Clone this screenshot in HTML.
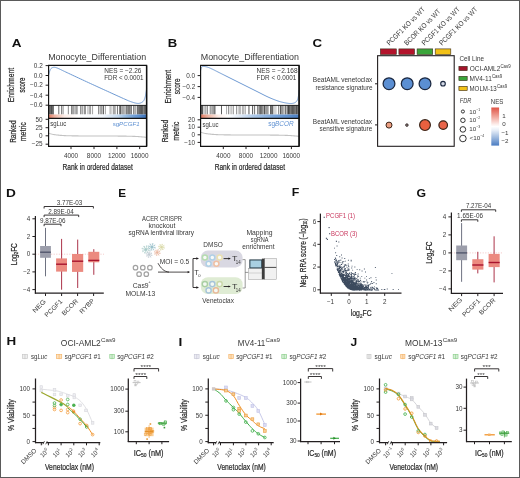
<!DOCTYPE html>
<html><head><meta charset="utf-8"><style>
html,body{margin:0;padding:0;background:#fff;width:520px;height:478px;overflow:hidden}
.hv{stroke:#2a2a2a;stroke-width:0.22px;fill:#2a2a2a}
svg{display:block;font-family:"Liberation Sans",sans-serif;filter:blur(0.3px)}
</style></head><body>
<svg width="520" height="478" viewBox="0 0 520 478" font-family="Liberation Sans, sans-serif" fill="#383838">
<defs>
<linearGradient id="grA" x1="0" x2="1" y1="0" y2="0">
<stop offset="0" stop-color="#e07a62"/><stop offset="0.06" stop-color="#eeb3a1"/><stop offset="0.16" stop-color="#fbece6"/><stop offset="0.3" stop-color="#ffffff"/>
<stop offset="0.55" stop-color="#f2f6fb"/><stop offset="0.7" stop-color="#c6daef"/><stop offset="0.8" stop-color="#8fb6e0"/><stop offset="0.92" stop-color="#5c8fcf"/><stop offset="1" stop-color="#3a6fb5"/></linearGradient>
<linearGradient id="grB" x1="0" x2="1" y1="0" y2="0">
<stop offset="0" stop-color="#e07a62"/><stop offset="0.08" stop-color="#efb8a6"/><stop offset="0.18" stop-color="#fbece6"/><stop offset="0.28" stop-color="#ffffff"/>
<stop offset="0.4" stop-color="#dfe9f6"/><stop offset="0.55" stop-color="#a9c6e8"/><stop offset="0.75" stop-color="#77a3da"/><stop offset="1" stop-color="#4a7fc4"/></linearGradient>
<linearGradient id="nes" x1="0" x2="0" y1="0" y2="1">
<stop offset="0" stop-color="#df5446"/><stop offset="0.25" stop-color="#f1a99e"/><stop offset="0.45" stop-color="#fdf0ee"/><stop offset="0.5" stop-color="#ffffff"/>
<stop offset="0.6" stop-color="#e6edf7"/><stop offset="0.8" stop-color="#99b6dd"/><stop offset="1" stop-color="#4a7cc2"/></linearGradient>
</defs>
<rect x="0" y="0" width="520" height="478" fill="#fff"/>
<text x="11.68" y="47.1" font-size="11.34" textLength="9.78" lengthAdjust="spacingAndGlyphs" fill="#111" font-weight="bold">A</text>
<line x1="45.6" y1="65.6" x2="48.6" y2="65.6" stroke="#231f20" stroke-width="1"/>
<line x1="45.6" y1="75.5" x2="48.6" y2="75.5" stroke="#231f20" stroke-width="1"/>
<line x1="45.6" y1="85.2" x2="48.6" y2="85.2" stroke="#231f20" stroke-width="1"/>
<line x1="45.6" y1="95.2" x2="48.6" y2="95.2" stroke="#231f20" stroke-width="1"/>
<line x1="45.6" y1="105.2" x2="48.6" y2="105.2" stroke="#231f20" stroke-width="1"/>
<line x1="45.6" y1="119.3" x2="48.6" y2="119.3" stroke="#231f20" stroke-width="1"/>
<line x1="45.6" y1="127.7" x2="48.6" y2="127.7" stroke="#231f20" stroke-width="1"/>
<line x1="45.6" y1="135.8" x2="48.6" y2="135.8" stroke="#231f20" stroke-width="1"/>
<line x1="45.6" y1="144.2" x2="48.6" y2="144.2" stroke="#231f20" stroke-width="1"/>
<rect x="48.6" y="105.4" width="0.54" height="9.1" fill="#1e1e1e"/>
<rect x="49.16" y="105.4" width="0.65" height="9.1" fill="#3c3c3c"/>
<rect x="49.84" y="105.4" width="0.61" height="9.1" fill="#2a2a2a"/>
<rect x="50.45" y="105.4" width="0.51" height="9.1" fill="#3c3c3c"/>
<rect x="50.99" y="105.4" width="0.73" height="9.1" fill="#1e1e1e"/>
<rect x="51.78" y="105.4" width="0.58" height="9.1" fill="#2a2a2a"/>
<rect x="52.4" y="105.4" width="0.53" height="9.1" fill="#333"/>
<rect x="52.94" y="105.4" width="0.51" height="9.1" fill="#1e1e1e"/>
<rect x="53.01" y="105.4" width="0.77" height="9.1" fill="#6a6a6a"/>
<rect x="58.29" y="105.4" width="1.01" height="9.1" fill="#6a6a6a"/>
<rect x="61.18" y="105.4" width="1.16" height="9.1" fill="#6a6a6a"/>
<rect x="62.89" y="105.4" width="0.97" height="9.1" fill="#b0b0b0"/>
<rect x="67.81" y="105.4" width="1.15" height="9.1" fill="#9a9a9a"/>
<rect x="71.33" y="105.4" width="0.89" height="9.1" fill="#4a4a4a"/>
<rect x="72.48" y="105.4" width="1.19" height="9.1" fill="#7a7a7a"/>
<rect x="73.85" y="105.4" width="0.73" height="9.1" fill="#9a9a9a"/>
<rect x="75.5" y="105.4" width="1.14" height="9.1" fill="#6a6a6a"/>
<rect x="77.11" y="105.4" width="0.91" height="9.1" fill="#b0b0b0"/>
<rect x="80.45" y="105.4" width="0.85" height="9.1" fill="#3a3a3a"/>
<rect x="82.16" y="105.4" width="1.02" height="9.1" fill="#9a9a9a"/>
<rect x="83.87" y="105.4" width="0.62" height="9.1" fill="#8a8a8a"/>
<rect x="84.61" y="105.4" width="0.96" height="9.1" fill="#4a4a4a"/>
<rect x="87.53" y="105.4" width="0.86" height="9.1" fill="#9a9a9a"/>
<rect x="89" y="105.4" width="1.01" height="9.1" fill="#b0b0b0"/>
<rect x="90.07" y="105.4" width="0.99" height="9.1" fill="#9a9a9a"/>
<rect x="92.42" y="105.4" width="0.62" height="9.1" fill="#6a6a6a"/>
<rect x="98.26" y="105.4" width="1.04" height="9.1" fill="#6a6a6a"/>
<rect x="99.98" y="105.4" width="0.74" height="9.1" fill="#8a8a8a"/>
<rect x="101.52" y="105.4" width="0.69" height="9.1" fill="#3a3a3a"/>
<rect x="102.83" y="105.4" width="1.1" height="9.1" fill="#5a5a5a"/>
<rect x="104.89" y="105.4" width="0.89" height="9.1" fill="#9a9a9a"/>
<rect x="109.67" y="105.4" width="0.84" height="9.1" fill="#8a8a8a"/>
<rect x="111.6" y="105.4" width="0.64" height="9.1" fill="#9a9a9a"/>
<rect x="113.1" y="105.4" width="0.75" height="9.1" fill="#8a8a8a"/>
<rect x="113.85" y="105.4" width="0.88" height="9.1" fill="#8a8a8a"/>
<rect x="115.53" y="105.4" width="0.52" height="9.1" fill="#6a6a6a"/>
<rect x="117.2" y="105.4" width="0.78" height="9.1" fill="#5a5a5a"/>
<rect x="118.96" y="105.4" width="0.9" height="9.1" fill="#7a7a7a"/>
<rect x="119.88" y="105.4" width="0.97" height="9.1" fill="#4a4a4a"/>
<rect x="120.89" y="105.4" width="0.51" height="9.1" fill="#3a3a3a"/>
<rect x="122.1" y="105.4" width="0.64" height="9.1" fill="#7a7a7a"/>
<rect x="122.8" y="105.4" width="0.81" height="9.1" fill="#8a8a8a"/>
<rect x="123.79" y="105.4" width="0.58" height="9.1" fill="#7a7a7a"/>
<rect x="124.74" y="105.4" width="0.58" height="9.1" fill="#7a7a7a"/>
<rect x="125.85" y="105.4" width="0.65" height="9.1" fill="#3c3c3c"/>
<rect x="126.69" y="105.4" width="0.74" height="9.1" fill="#3a3a3a"/>
<rect x="127.62" y="105.4" width="0.67" height="9.1" fill="#6a6a6a"/>
<rect x="128.44" y="105.4" width="0.63" height="9.1" fill="#3c3c3c"/>
<rect x="129.42" y="105.4" width="0.6" height="9.1" fill="#2a2a2a"/>
<rect x="130.31" y="105.4" width="0.99" height="9.1" fill="#6a6a6a"/>
<rect x="131.3" y="105.4" width="0.57" height="9.1" fill="#3c3c3c"/>
<rect x="133.49" y="105.4" width="0.72" height="9.1" fill="#1e1e1e"/>
<rect x="134.78" y="105.4" width="0.77" height="9.1" fill="#6a6a6a"/>
<rect x="136.8" y="105.4" width="0.75" height="9.1" fill="#3c3c3c"/>
<rect x="137.58" y="105.4" width="0.76" height="9.1" fill="#3c3c3c"/>
<rect x="138.45" y="105.4" width="0.82" height="9.1" fill="#3c3c3c"/>
<rect x="139.28" y="105.4" width="0.62" height="9.1" fill="#2a2a2a"/>
<rect x="140.1" y="105.4" width="0.62" height="9.1" fill="#1e1e1e"/>
<rect x="140.76" y="105.4" width="0.88" height="9.1" fill="#2a2a2a"/>
<rect x="141.69" y="105.4" width="0.6" height="9.1" fill="#1e1e1e"/>
<rect x="142.38" y="105.4" width="0.84" height="9.1" fill="#2a2a2a"/>
<rect x="143.54" y="105.4" width="0.73" height="9.1" fill="#2a2a2a"/>
<rect x="144.45" y="105.4" width="0.85" height="9.1" fill="#1e1e1e"/>
<rect x="145.34" y="105.4" width="0.64" height="9.1" fill="#2a2a2a"/>
<rect x="146.07" y="105.4" width="0.86" height="9.1" fill="#2a2a2a"/>
<rect x="48.6" y="114.5" width="98" height="3.9" fill="url(#grA)"/>
<path d="M48.6 133.2 L49.58 133.52 L50.56 133.8 L51.54 134.05 L52.52 134.27 L53.5 134.46 L54.48 134.64 L55.46 134.79 L56.44 134.93 L57.42 135.05 L58.4 135.16 L59.38 135.25 L60.36 135.34 L61.34 135.41 L62.32 135.48 L63.3 135.54 L64.28 135.59 L65.26 135.64 L66.24 135.68 L67.22 135.71 L68.2 135.75 L69.18 135.78 L70.16 135.8 L71.14 135.82 L72.12 135.84 L73.1 135.86 L74.08 135.88 L75.06 135.89 L76.04 135.9 L77.02 135.91 L78 135.92 L78.98 135.93 L79.96 135.94 L80.94 135.95 L81.92 135.95 L82.9 135.96 L83.88 135.97 L84.86 135.97 L85.84 135.97 L86.82 135.98 L87.8 135.98 L88.78 135.98 L89.76 135.99 L90.74 135.99 L91.72 135.99 L92.7 135.99 L93.68 136 L94.66 136 L95.64 136 L96.62 136 L97.6 136 L98.58 136 L99.56 136.01 L100.54 136.01 L101.52 136.01 L102.5 136.01 L103.48 136.01 L104.46 136.02 L105.44 136.02 L106.42 136.02 L107.4 136.02 L108.38 136.03 L109.36 136.03 L110.34 136.03 L111.32 136.04 L112.3 136.04 L113.28 136.05 L114.26 136.05 L115.24 136.06 L116.22 136.06 L117.2 136.07 L118.18 136.08 L119.16 136.08 L120.14 136.09 L121.12 136.1 L122.1 136.11 L123.08 136.13 L124.06 136.14 L125.04 136.15 L126.02 136.17 L127 136.19 L127.98 136.21 L128.96 136.23 L129.94 136.26 L130.92 136.28 L131.9 136.31 L132.88 136.35 L133.86 136.38 L134.84 136.42 L135.82 136.47 L136.8 136.51 L137.78 136.57 L138.76 136.63 L139.74 136.7 L140.72 136.77 L141.7 136.85 L142.68 136.94 L143.66 137.04 L144.64 137.15 L145.62 137.27 L146.6 137.4" fill="none" stroke="#c2c2c2" stroke-width="1.1"/>
<path d="M48.6 75 L48.66 74.79 L48.73 74.51 L48.81 74.19 L48.91 73.82 L49.01 73.43 L49.12 73.02 L49.24 72.62 L49.36 72.22 L49.48 71.84 L49.6 71.5 L49.72 71.18 L49.83 70.86 L49.95 70.54 L50.06 70.22 L50.19 69.91 L50.32 69.62 L50.46 69.33 L50.62 69.07 L50.8 68.82 L51 68.6 L51.22 68.4 L51.45 68.2 L51.71 68.02 L51.97 67.86 L52.25 67.71 L52.54 67.58 L52.84 67.48 L53.15 67.39 L53.47 67.33 L53.8 67.3 L54.11 67.28 L54.4 67.28 L54.68 67.29 L54.97 67.33 L55.27 67.39 L55.61 67.48 L56 67.6 L56.45 67.75 L56.98 67.95 L57.6 68.2 L58.28 68.48 L58.99 68.8 L59.75 69.14 L60.56 69.52 L61.43 69.94 L62.38 70.4 L63.42 70.91 L64.57 71.45 L65.82 72.05 L67.2 72.7 L68.74 73.42 L70.44 74.22 L72.28 75.08 L74.23 75.99 L76.25 76.93 L78.32 77.9 L80.41 78.87 L82.49 79.84 L84.53 80.79 L86.5 81.7 L88.42 82.59 L90.35 83.47 L92.27 84.36 L94.19 85.24 L96.11 86.12 L98.02 87 L99.94 87.87 L101.86 88.75 L103.78 89.62 L105.7 90.5 L107.68 91.4 L109.74 92.34 L111.86 93.31 L113.98 94.28 L116.09 95.23 L118.13 96.16 L120.07 97.03 L121.87 97.85 L123.49 98.57 L124.9 99.2 L126.07 99.72 L127.04 100.14 L127.83 100.49 L128.48 100.77 L129.03 101 L129.52 101.19 L129.97 101.37 L130.43 101.53 L130.93 101.71 L131.5 101.9 L132.13 102.11 L132.76 102.31 L133.39 102.5 L134.02 102.69 L134.64 102.86 L135.24 103.01 L135.82 103.14 L136.38 103.25 L136.91 103.34 L137.4 103.4 L137.86 103.43 L138.28 103.44 L138.68 103.42 L139.05 103.38 L139.41 103.32 L139.74 103.24 L140.07 103.15 L140.38 103.04 L140.69 102.93 L141 102.8 L141.31 102.66 L141.6 102.52 L141.89 102.36 L142.16 102.19 L142.43 102 L142.68 101.8 L142.92 101.58 L143.16 101.34 L143.39 101.08 L143.6 100.8 L143.8 100.5 L143.99 100.19 L144.17 99.86 L144.34 99.52 L144.49 99.15 L144.64 98.76 L144.79 98.36 L144.93 97.93 L145.06 97.48 L145.2 97 L145.33 96.48 L145.46 95.89 L145.59 95.27 L145.71 94.61 L145.83 93.95 L145.94 93.29 L146.04 92.65 L146.14 92.04 L146.22 91.49 L146.3 91 L146.36 90.56 L146.42 90.16 L146.46 89.79 L146.49 89.44 L146.52 89.12 L146.54 88.84 L146.56 88.58 L146.57 88.36 L146.59 88.17 L146.6 88" fill="none" stroke="#6e9ad3" stroke-width="1"/>
<line x1="48.6" y1="105.4" x2="146.6" y2="105.4" stroke="#111" stroke-width="0.9"/>
<line x1="48.4" y1="118.4" x2="146.8" y2="118.4" stroke="#111" stroke-width="1.2"/>
<path d="M48.60 146.30V65.40H146.60V146.30Z" fill="none" stroke="#111" stroke-width="1.15"/>
<line x1="146.6" y1="65.4" x2="146.6" y2="146.3" stroke="#111" stroke-width="1.45"/>
<line x1="71" y1="146.3" x2="71" y2="149.1" stroke="#231f20" stroke-width="1"/>
<line x1="94" y1="146.3" x2="94" y2="149.1" stroke="#231f20" stroke-width="1"/>
<line x1="116.9" y1="146.3" x2="116.9" y2="149.1" stroke="#231f20" stroke-width="1"/>
<line x1="139.7" y1="146.3" x2="139.7" y2="149.1" stroke="#231f20" stroke-width="1"/>
<text x="167.84" y="47.1" font-size="11.34" textLength="9.46" lengthAdjust="spacingAndGlyphs" fill="#111" font-weight="bold">B</text>
<line x1="197.6" y1="75.6" x2="200.6" y2="75.6" stroke="#231f20" stroke-width="1"/>
<line x1="197.6" y1="86.6" x2="200.6" y2="86.6" stroke="#231f20" stroke-width="1"/>
<line x1="197.6" y1="97.4" x2="200.6" y2="97.4" stroke="#231f20" stroke-width="1"/>
<line x1="197.6" y1="119.8" x2="200.6" y2="119.8" stroke="#231f20" stroke-width="1"/>
<line x1="197.6" y1="127.2" x2="200.6" y2="127.2" stroke="#231f20" stroke-width="1"/>
<line x1="197.6" y1="134.8" x2="200.6" y2="134.8" stroke="#231f20" stroke-width="1"/>
<line x1="197.6" y1="142.4" x2="200.6" y2="142.4" stroke="#231f20" stroke-width="1"/>
<rect x="200.6" y="105.4" width="0.79" height="9.1" fill="#1e1e1e"/>
<rect x="201.39" y="105.4" width="0.61" height="9.1" fill="#2a2a2a"/>
<rect x="202.07" y="105.4" width="0.7" height="9.1" fill="#333"/>
<rect x="202.57" y="105.4" width="0.65" height="9.1" fill="#3a3a3a"/>
<rect x="203.91" y="105.4" width="0.61" height="9.1" fill="#9a9a9a"/>
<rect x="205.34" y="105.4" width="1.06" height="9.1" fill="#8a8a8a"/>
<rect x="207.03" y="105.4" width="0.81" height="9.1" fill="#7a7a7a"/>
<rect x="209.69" y="105.4" width="1.11" height="9.1" fill="#8a8a8a"/>
<rect x="211.3" y="105.4" width="0.72" height="9.1" fill="#9a9a9a"/>
<rect x="212.47" y="105.4" width="1.12" height="9.1" fill="#5a5a5a"/>
<rect x="214.24" y="105.4" width="0.67" height="9.1" fill="#3a3a3a"/>
<rect x="215.06" y="105.4" width="0.62" height="9.1" fill="#8a8a8a"/>
<rect x="220.99" y="105.4" width="0.97" height="9.1" fill="#5a5a5a"/>
<rect x="226.23" y="105.4" width="0.81" height="9.1" fill="#9a9a9a"/>
<rect x="228.11" y="105.4" width="1.13" height="9.1" fill="#8a8a8a"/>
<rect x="230.49" y="105.4" width="0.75" height="9.1" fill="#b0b0b0"/>
<rect x="231.38" y="105.4" width="1.03" height="9.1" fill="#b0b0b0"/>
<rect x="233.25" y="105.4" width="0.67" height="9.1" fill="#7a7a7a"/>
<rect x="236" y="105.4" width="0.85" height="9.1" fill="#8a8a8a"/>
<rect x="237.72" y="105.4" width="0.82" height="9.1" fill="#b0b0b0"/>
<rect x="238.88" y="105.4" width="1.01" height="9.1" fill="#b0b0b0"/>
<rect x="240.42" y="105.4" width="0.66" height="9.1" fill="#8a8a8a"/>
<rect x="242.43" y="105.4" width="1.08" height="9.1" fill="#7a7a7a"/>
<rect x="244.7" y="105.4" width="0.84" height="9.1" fill="#7a7a7a"/>
<rect x="248.06" y="105.4" width="0.99" height="9.1" fill="#9a9a9a"/>
<rect x="249.35" y="105.4" width="0.65" height="9.1" fill="#8a8a8a"/>
<rect x="252.17" y="105.4" width="0.94" height="9.1" fill="#4a4a4a"/>
<rect x="254.34" y="105.4" width="0.74" height="9.1" fill="#3a3a3a"/>
<rect x="256.98" y="105.4" width="0.63" height="9.1" fill="#4a4a4a"/>
<rect x="257.66" y="105.4" width="0.96" height="9.1" fill="#7a7a7a"/>
<rect x="259.34" y="105.4" width="0.98" height="9.1" fill="#4a4a4a"/>
<rect x="259.7" y="105.4" width="0.57" height="9.1" fill="#7a7a7a"/>
<rect x="260.42" y="105.4" width="0.61" height="9.1" fill="#3a3a3a"/>
<rect x="261.33" y="105.4" width="0.86" height="9.1" fill="#3a3a3a"/>
<rect x="262.22" y="105.4" width="0.68" height="9.1" fill="#6a6a6a"/>
<rect x="263.52" y="105.4" width="0.54" height="9.1" fill="#4a4a4a"/>
<rect x="264.07" y="105.4" width="0.86" height="9.1" fill="#3a3a3a"/>
<rect x="265.19" y="105.4" width="0.56" height="9.1" fill="#5a5a5a"/>
<rect x="266.49" y="105.4" width="0.76" height="9.1" fill="#3a3a3a"/>
<rect x="267.52" y="105.4" width="0.52" height="9.1" fill="#6a6a6a"/>
<rect x="268.13" y="105.4" width="0.52" height="9.1" fill="#8a8a8a"/>
<rect x="270.18" y="105.4" width="0.81" height="9.1" fill="#3c3c3c"/>
<rect x="271.06" y="105.4" width="0.67" height="9.1" fill="#3a3a3a"/>
<rect x="271.93" y="105.4" width="0.78" height="9.1" fill="#2a2a2a"/>
<rect x="273.45" y="105.4" width="0.95" height="9.1" fill="#9a9a9a"/>
<rect x="275.49" y="105.4" width="0.85" height="9.1" fill="#b0b0b0"/>
<rect x="278.1" y="105.4" width="0.55" height="9.1" fill="#333"/>
<rect x="278.85" y="105.4" width="0.55" height="9.1" fill="#b0b0b0"/>
<rect x="280.26" y="105.4" width="0.97" height="9.1" fill="#1e1e1e"/>
<rect x="281.71" y="105.4" width="0.7" height="9.1" fill="#1e1e1e"/>
<rect x="282.63" y="105.4" width="0.94" height="9.1" fill="#8a8a8a"/>
<rect x="283.73" y="105.4" width="0.8" height="9.1" fill="#9a9a9a"/>
<rect x="285.12" y="105.4" width="0.85" height="9.1" fill="#5a5a5a"/>
<rect x="286.58" y="105.4" width="0.63" height="9.1" fill="#5a5a5a"/>
<rect x="287.3" y="105.4" width="0.55" height="9.1" fill="#333"/>
<rect x="287.99" y="105.4" width="0.96" height="9.1" fill="#3c3c3c"/>
<rect x="289.25" y="105.4" width="0.9" height="9.1" fill="#2a2a2a"/>
<rect x="290.46" y="105.4" width="0.53" height="9.1" fill="#1e1e1e"/>
<rect x="291.21" y="105.4" width="0.75" height="9.1" fill="#333"/>
<rect x="292.04" y="105.4" width="0.67" height="9.1" fill="#1e1e1e"/>
<rect x="292.75" y="105.4" width="0.65" height="9.1" fill="#2a2a2a"/>
<rect x="293.43" y="105.4" width="0.79" height="9.1" fill="#2a2a2a"/>
<rect x="294.25" y="105.4" width="0.51" height="9.1" fill="#2a2a2a"/>
<rect x="294.78" y="105.4" width="0.51" height="9.1" fill="#3c3c3c"/>
<rect x="295.44" y="105.4" width="0.71" height="9.1" fill="#3c3c3c"/>
<rect x="296.22" y="105.4" width="0.86" height="9.1" fill="#2a2a2a"/>
<rect x="297.41" y="105.4" width="0.67" height="9.1" fill="#1e1e1e"/>
<rect x="298.3" y="105.4" width="0.52" height="9.1" fill="#3c3c3c"/>
<rect x="200.6" y="114.5" width="98.5" height="3.9" fill="url(#grB)"/>
<path d="M200.6 132.2 L201.59 132.52 L202.57 132.8 L203.56 133.05 L204.54 133.27 L205.53 133.46 L206.51 133.64 L207.5 133.79 L208.48 133.93 L209.47 134.05 L210.45 134.16 L211.44 134.25 L212.42 134.34 L213.41 134.41 L214.39 134.48 L215.38 134.54 L216.36 134.59 L217.34 134.64 L218.33 134.68 L219.31 134.71 L220.3 134.75 L221.28 134.78 L222.27 134.8 L223.25 134.82 L224.24 134.84 L225.22 134.86 L226.21 134.88 L227.19 134.89 L228.18 134.9 L229.16 134.91 L230.15 134.92 L231.13 134.93 L232.12 134.94 L233.11 134.95 L234.09 134.95 L235.07 134.96 L236.06 134.97 L237.05 134.97 L238.03 134.97 L239.02 134.98 L240 134.98 L240.99 134.98 L241.97 134.99 L242.96 134.99 L243.94 134.99 L244.93 134.99 L245.91 135 L246.9 135 L247.88 135 L248.87 135 L249.85 135 L250.84 135 L251.82 135.01 L252.81 135.01 L253.79 135.01 L254.78 135.01 L255.76 135.01 L256.75 135.02 L257.73 135.02 L258.72 135.02 L259.7 135.02 L260.69 135.03 L261.67 135.03 L262.66 135.03 L263.64 135.04 L264.62 135.04 L265.61 135.05 L266.6 135.05 L267.58 135.06 L268.56 135.06 L269.55 135.07 L270.54 135.08 L271.52 135.08 L272.5 135.09 L273.49 135.1 L274.48 135.11 L275.46 135.13 L276.45 135.14 L277.43 135.15 L278.42 135.17 L279.4 135.19 L280.38 135.21 L281.37 135.23 L282.36 135.26 L283.34 135.28 L284.33 135.31 L285.31 135.35 L286.3 135.38 L287.28 135.42 L288.26 135.47 L289.25 135.51 L290.24 135.57 L291.22 135.63 L292.21 135.7 L293.19 135.77 L294.18 135.85 L295.16 135.94 L296.15 136.04 L297.13 136.15 L298.12 136.27 L299.1 136.4" fill="none" stroke="#c2c2c2" stroke-width="1.1"/>
<path d="M200.6 70.5 L200.64 70.33 L200.68 70.11 L200.73 69.84 L200.78 69.55 L200.84 69.23 L200.91 68.91 L200.99 68.59 L201.08 68.29 L201.19 68.03 L201.3 67.8 L201.42 67.61 L201.54 67.42 L201.66 67.25 L201.8 67.09 L201.94 66.95 L202.11 66.82 L202.29 66.71 L202.5 66.62 L202.73 66.55 L203 66.5 L203.3 66.47 L203.64 66.46 L204 66.47 L204.39 66.5 L204.79 66.54 L205.22 66.61 L205.65 66.68 L206.1 66.78 L206.55 66.88 L207 67 L207.45 67.13 L207.92 67.29 L208.39 67.46 L208.88 67.64 L209.38 67.84 L209.88 68.06 L210.4 68.28 L210.92 68.51 L211.46 68.75 L212 69 L212.54 69.25 L213.07 69.5 L213.6 69.76 L214.14 70.03 L214.69 70.31 L215.26 70.61 L215.87 70.92 L216.53 71.26 L217.23 71.61 L218 72 L218.84 72.42 L219.74 72.87 L220.71 73.35 L221.71 73.86 L222.75 74.38 L223.81 74.9 L224.87 75.44 L225.94 75.97 L226.98 76.49 L228 77 L229 77.5 L230 78 L231 78.5 L232 79 L233 79.5 L234 80 L235 80.5 L236 81 L237 81.5 L238 82 L239 82.5 L240 83 L241 83.5 L242 84 L243 84.5 L244 85 L245 85.5 L246 86 L247 86.5 L248 87 L249 87.5 L250 88 L251 88.5 L252 89 L253 89.5 L254 90 L255 90.5 L256 91 L257 91.5 L258 92 L259 92.5 L260 93.02 L261 93.53 L262 94.05 L263 94.56 L264 95.07 L265 95.57 L266 96.06 L267 96.54 L268 97 L269.01 97.45 L270.03 97.9 L271.06 98.34 L272.1 98.77 L273.12 99.19 L274.14 99.59 L275.15 99.98 L276.13 100.34 L277.08 100.69 L278 101 L278.89 101.29 L279.77 101.55 L280.63 101.79 L281.46 102.02 L282.28 102.22 L283.08 102.4 L283.85 102.57 L284.59 102.73 L285.31 102.87 L286 103 L286.66 103.12 L287.28 103.22 L287.88 103.31 L288.45 103.39 L289 103.45 L289.53 103.49 L290.04 103.52 L290.54 103.53 L291.02 103.53 L291.5 103.5 L291.97 103.46 L292.43 103.39 L292.87 103.32 L293.3 103.22 L293.71 103.11 L294.11 102.98 L294.49 102.83 L294.85 102.67 L295.18 102.49 L295.5 102.3 L295.79 102.09 L296.06 101.87 L296.3 101.63 L296.53 101.38 L296.74 101.11 L296.93 100.82 L297.11 100.52 L297.28 100.19 L297.44 99.86 L297.6 99.5 L297.75 99.12 L297.88 98.72 L298 98.29 L298.1 97.85 L298.2 97.39 L298.29 96.92 L298.37 96.44 L298.45 95.96 L298.53 95.48 L298.6 95 L298.67 94.5 L298.74 93.95 L298.8 93.38 L298.86 92.8 L298.91 92.22 L298.96 91.66 L299 91.15 L299.04 90.69 L299.07 90.3 L299.1 90" fill="none" stroke="#6e9ad3" stroke-width="1"/>
<line x1="200.6" y1="105.4" x2="299.1" y2="105.4" stroke="#111" stroke-width="0.9"/>
<line x1="200.4" y1="118.4" x2="299.3" y2="118.4" stroke="#111" stroke-width="1.2"/>
<path d="M200.60 146.30V65.40H299.10V146.30Z" fill="none" stroke="#111" stroke-width="1.15"/>
<line x1="299.1" y1="65.4" x2="299.1" y2="146.3" stroke="#111" stroke-width="1.45"/>
<line x1="223.3" y1="146.3" x2="223.3" y2="149.1" stroke="#231f20" stroke-width="1"/>
<line x1="246" y1="146.3" x2="246" y2="149.1" stroke="#231f20" stroke-width="1"/>
<line x1="268.7" y1="146.3" x2="268.7" y2="149.1" stroke="#231f20" stroke-width="1"/>
<line x1="291.4" y1="146.3" x2="291.4" y2="149.1" stroke="#231f20" stroke-width="1"/>
<text x="33.82" y="68.05" font-size="6.4" textLength="8.9" lengthAdjust="spacingAndGlyphs">0.2</text>
<text x="33.75" y="77.75" font-size="6.4" textLength="8.9" lengthAdjust="spacingAndGlyphs">0.0</text>
<text x="30.09" y="87.35" font-size="6.4" textLength="12.63" lengthAdjust="spacingAndGlyphs">−0.2</text>
<text x="29.95" y="97.65" font-size="6.4" textLength="12.63" lengthAdjust="spacingAndGlyphs">−0.4</text>
<text x="30.04" y="107.45" font-size="6.4" textLength="12.63" lengthAdjust="spacingAndGlyphs">−0.6</text>
<text x="35.53" y="121.55" font-size="6.4" textLength="7.12" lengthAdjust="spacingAndGlyphs">50</text>
<text x="35.55" y="129.95" font-size="6.4" textLength="7.12" lengthAdjust="spacingAndGlyphs">25</text>
<text x="39.08" y="138.05" font-size="6.4" textLength="3.56" lengthAdjust="spacingAndGlyphs">0</text>
<text x="31.81" y="146.45" font-size="6.4" textLength="10.86" lengthAdjust="spacingAndGlyphs">−25</text>
<text x="63.93" y="158" font-size="6.4" textLength="14.24" lengthAdjust="spacingAndGlyphs">4000</text>
<text x="86.87" y="158" font-size="6.4" textLength="14.24" lengthAdjust="spacingAndGlyphs">8000</text>
<text x="107.88" y="158" font-size="6.4" textLength="17.8" lengthAdjust="spacingAndGlyphs">12000</text>
<text x="130.68" y="158" font-size="6.4" textLength="17.8" lengthAdjust="spacingAndGlyphs">16000</text>
<text x="48.17" y="60.3" font-size="9" textLength="98" lengthAdjust="spacingAndGlyphs">Monocyte_Differentiation</text>
<text x="104.27" y="72.9" font-size="6.3" textLength="37.11" lengthAdjust="spacingAndGlyphs">NES = −2.26</text>
<text x="104.28" y="80.3" font-size="6.3" textLength="39.32" lengthAdjust="spacingAndGlyphs">FDR &lt; 0.0001</text>
<text x="50.14" y="126.4" font-size="6.4" textLength="16.02" lengthAdjust="spacingAndGlyphs">sgLuc</text>
<text x="112.63" y="125.9" font-size="6.2" textLength="26.96" lengthAdjust="spacingAndGlyphs" fill="#5f91d2">sg<tspan font-style="italic">PCGF1</tspan></text>
<text x="62.46" y="169.8" font-size="8.6" textLength="70.38" lengthAdjust="spacingAndGlyphs" class="hv">Rank in ordered dataset</text>
<text x="14.1" y="102.36" font-size="8.6" textLength="34.61" lengthAdjust="spacingAndGlyphs" transform="rotate(-90 14.1 102.36)" class="hv">Enrichment</text>
<text x="24.9" y="92.57" font-size="8.6" textLength="15.04" lengthAdjust="spacingAndGlyphs" transform="rotate(-90 24.9 92.57)" class="hv">score</text>
<text x="16" y="142.83" font-size="8.6" textLength="22.45" lengthAdjust="spacingAndGlyphs" transform="rotate(-90 16 142.83)" class="hv">Ranked</text>
<text x="25.8" y="141.26" font-size="8.6" textLength="19.15" lengthAdjust="spacingAndGlyphs" transform="rotate(-90 25.8 141.26)" class="hv">metric</text>
<text x="186.25" y="77.95" font-size="6.4" textLength="8.9" lengthAdjust="spacingAndGlyphs">0.0</text>
<text x="182.59" y="88.95" font-size="6.4" textLength="12.63" lengthAdjust="spacingAndGlyphs">−0.2</text>
<text x="182.45" y="99.65" font-size="6.4" textLength="12.63" lengthAdjust="spacingAndGlyphs">−0.4</text>
<text x="188.03" y="122.05" font-size="6.4" textLength="7.12" lengthAdjust="spacingAndGlyphs">20</text>
<text x="188.03" y="129.45" font-size="6.4" textLength="7.12" lengthAdjust="spacingAndGlyphs">10</text>
<text x="191.58" y="137.05" font-size="6.4" textLength="3.56" lengthAdjust="spacingAndGlyphs">0</text>
<text x="184.29" y="144.65" font-size="6.4" textLength="10.86" lengthAdjust="spacingAndGlyphs">−10</text>
<text x="216.23" y="158" font-size="6.4" textLength="14.24" lengthAdjust="spacingAndGlyphs">4000</text>
<text x="238.87" y="158" font-size="6.4" textLength="14.24" lengthAdjust="spacingAndGlyphs">8000</text>
<text x="259.68" y="158" font-size="6.4" textLength="17.8" lengthAdjust="spacingAndGlyphs">12000</text>
<text x="282.38" y="158" font-size="6.4" textLength="17.8" lengthAdjust="spacingAndGlyphs">16000</text>
<text x="200.77" y="60.2" font-size="9" textLength="98.1" lengthAdjust="spacingAndGlyphs">Monocyte_Differentiation</text>
<text x="256.56" y="72.7" font-size="6.3" textLength="41.02" lengthAdjust="spacingAndGlyphs">NES = −2.168</text>
<text x="256.58" y="80.4" font-size="6.3" textLength="39.83" lengthAdjust="spacingAndGlyphs">FDR &lt; 0.0001</text>
<text x="202.54" y="126.9" font-size="6.4" textLength="16.02" lengthAdjust="spacingAndGlyphs">sgLuc</text>
<text x="268.23" y="126.2" font-size="6.4" textLength="25.37" lengthAdjust="spacingAndGlyphs" fill="#5f91d2">sg<tspan font-style="italic">BCOR</tspan></text>
<text x="214.66" y="170.1" font-size="8.6" textLength="70.38" lengthAdjust="spacingAndGlyphs" class="hv">Rank in ordered dataset</text>
<text x="170.6" y="103.44" font-size="8.6" textLength="33.59" lengthAdjust="spacingAndGlyphs" transform="rotate(-90 170.6 103.44)" class="hv">Enrichment</text>
<text x="180.2" y="94.17" font-size="8.6" textLength="15.66" lengthAdjust="spacingAndGlyphs" transform="rotate(-90 180.2 94.17)" class="hv">score</text>
<text x="168" y="142.33" font-size="8.6" textLength="22.45" lengthAdjust="spacingAndGlyphs" transform="rotate(-90 168 142.33)" class="hv">Ranked</text>
<text x="178.8" y="140.76" font-size="8.6" textLength="19.15" lengthAdjust="spacingAndGlyphs" transform="rotate(-90 178.8 140.76)" class="hv">metric</text>
<text x="312.55" y="47.2" font-size="11.32" textLength="9.61" lengthAdjust="spacingAndGlyphs" fill="#111" font-weight="bold">C</text>
<rect x="380.4" y="48.9" width="15.9" height="5.6" fill="#b3132b" stroke="#3a2a1a" stroke-width="0.6"/>
<rect x="398.9" y="48.9" width="15.6" height="5.6" fill="#b3132b" stroke="#3a2a1a" stroke-width="0.6"/>
<rect x="417.1" y="48.9" width="15.6" height="5.6" fill="#3aa53a" stroke="#3a2a1a" stroke-width="0.6"/>
<rect x="435.2" y="48.9" width="15.6" height="5.6" fill="#f2c117" stroke="#3a2a1a" stroke-width="0.6"/>
<rect x="377.6" y="55.7" width="76.6" height="90.6" fill="none" stroke="#231f20" stroke-width="1.1"/>
<line x1="375" y1="83.8" x2="377.6" y2="83.8" stroke="#231f20" stroke-width="1"/>
<line x1="375" y1="124.9" x2="377.6" y2="124.9" stroke="#231f20" stroke-width="1"/>
<circle cx="389" cy="83.7" r="5.9" fill="#5b8fd3" stroke="#1b2840" stroke-width="1.25"/>
<circle cx="407.2" cy="83.7" r="5.9" fill="#5b8fd3" stroke="#1b2840" stroke-width="1.25"/>
<circle cx="425" cy="83.7" r="5.9" fill="#5b8fd3" stroke="#1b2840" stroke-width="1.25"/>
<circle cx="443" cy="83.7" r="2.3" fill="#d3d9e6" stroke="#1b2840" stroke-width="1.1"/>
<circle cx="389" cy="125.1" r="3" fill="#ec9f82" stroke="#3a2418" stroke-width="1"/>
<circle cx="406.9" cy="125.1" r="1.3" fill="#8a7a76" stroke="#2a2020" stroke-width="0.8"/>
<circle cx="425" cy="125.1" r="5.4" fill="#e8603f" stroke="#3a2418" stroke-width="1.2"/>
<circle cx="443.2" cy="125.1" r="4.3" fill="#e9654a" stroke="#3a2418" stroke-width="1.2"/>
<text x="312.87" y="82.1" font-size="6.6" textLength="59.5" lengthAdjust="spacingAndGlyphs">BeatAML venetoclax</text>
<text x="315.48" y="89.9" font-size="6.6" textLength="57.1" lengthAdjust="spacingAndGlyphs">resistance signature</text>
<text x="312.87" y="123.7" font-size="6.6" textLength="59.19" lengthAdjust="spacingAndGlyphs">BeatAML venetoclax</text>
<text x="319.53" y="131.1" font-size="6.6" textLength="52.75" lengthAdjust="spacingAndGlyphs">sensitive signature</text>
<text x="389.44" y="45.86" font-size="7.2" textLength="50.86" lengthAdjust="spacingAndGlyphs" transform="rotate(-45 389.44 45.86)">PCGF1 KO vs WT</text>
<text x="407.04" y="45.86" font-size="7.2" textLength="48.09" lengthAdjust="spacingAndGlyphs" transform="rotate(-45 407.04 45.86)">BCOR KO vs WT</text>
<text x="424.44" y="45.86" font-size="7.2" textLength="50.86" lengthAdjust="spacingAndGlyphs" transform="rotate(-45 424.44 45.86)">PCGF1 KO vs WT</text>
<text x="442.04" y="45.86" font-size="7.2" textLength="50.86" lengthAdjust="spacingAndGlyphs" transform="rotate(-45 442.04 45.86)">PCGF1 KO vs WT</text>
<text x="459.43" y="61" font-size="6.8" textLength="24.6" lengthAdjust="spacingAndGlyphs">Cell Line</text>
<rect x="458.9" y="66.3" width="8.3" height="4.3" fill="#a3142a" stroke="#3a2a1a" stroke-width="0.6"/>
<text x="469.7" y="71.3" font-size="7" textLength="30.63" lengthAdjust="spacingAndGlyphs">OCI-AML2</text>
<text x="500.38" y="68.2" font-size="4.8" textLength="10.23" lengthAdjust="spacingAndGlyphs">Cas9</text>
<rect x="458.9" y="76.3" width="8.3" height="4.3" fill="#3aa53a" stroke="#3a2a1a" stroke-width="0.6"/>
<text x="469.47" y="81.3" font-size="7" textLength="22.35" lengthAdjust="spacingAndGlyphs">MV4-11</text>
<text x="491.88" y="78.2" font-size="4.8" textLength="10.23" lengthAdjust="spacingAndGlyphs">Cas9</text>
<rect x="458.9" y="86.3" width="8.3" height="4.3" fill="#f2c117" stroke="#3a2a1a" stroke-width="0.6"/>
<text x="469.5" y="91.3" font-size="7" textLength="27.27" lengthAdjust="spacingAndGlyphs">MOLM-13</text>
<text x="496.88" y="88.2" font-size="4.8" textLength="10.23" lengthAdjust="spacingAndGlyphs">Cas9</text>
<text x="459.83" y="103.3" font-size="6.6" textLength="11.54" lengthAdjust="spacingAndGlyphs" font-style="italic">FDR</text>
<text x="490.8" y="103.5" font-size="6.6" textLength="12.58" lengthAdjust="spacingAndGlyphs">NES</text>
<circle cx="462.9" cy="111.5" r="1.55" fill="none" stroke="#2a2a2a" stroke-width="0.95"/>
<circle cx="462.9" cy="120.3" r="2.25" fill="none" stroke="#2a2a2a" stroke-width="0.95"/>
<circle cx="462.9" cy="129.4" r="2.8" fill="none" stroke="#2a2a2a" stroke-width="0.95"/>
<circle cx="462.9" cy="138.5" r="3.3" fill="none" stroke="#2a2a2a" stroke-width="0.95"/>
<text x="469.33" y="113.6" font-size="6.2" textLength="6.91" lengthAdjust="spacingAndGlyphs">10</text>
<text x="476.23" y="110.5" font-size="3.8" textLength="3.94" lengthAdjust="spacingAndGlyphs">−1</text>
<text x="469.33" y="122.4" font-size="6.2" textLength="6.91" lengthAdjust="spacingAndGlyphs">10</text>
<text x="476.23" y="119.3" font-size="3.8" textLength="3.94" lengthAdjust="spacingAndGlyphs">−2</text>
<text x="469.33" y="131.4" font-size="6.2" textLength="6.91" lengthAdjust="spacingAndGlyphs">10</text>
<text x="476.23" y="128.3" font-size="3.8" textLength="3.92" lengthAdjust="spacingAndGlyphs">−3</text>
<text x="469.49" y="140.3" font-size="6.2" textLength="10.75" lengthAdjust="spacingAndGlyphs">&lt;10</text>
<text x="480.23" y="137.2" font-size="3.8" textLength="3.86" lengthAdjust="spacingAndGlyphs">−4</text>
<rect x="491.3" y="107.5" width="7.8" height="38.1" fill="url(#nes)"/>
<text x="502.19" y="117.8" font-size="6.2" textLength="3.45" lengthAdjust="spacingAndGlyphs">1</text>
<text x="502.27" y="126.2" font-size="6.2" textLength="3.45" lengthAdjust="spacingAndGlyphs">0</text>
<text x="501.5" y="134.5" font-size="6.2" textLength="7.07" lengthAdjust="spacingAndGlyphs">−1</text>
<text x="501.5" y="142.8" font-size="6.2" textLength="7.07" lengthAdjust="spacingAndGlyphs">−2</text>
<text x="6.1" y="196.7" font-size="10.76" textLength="9.86" lengthAdjust="spacingAndGlyphs" fill="#111" font-weight="bold">D</text>
<line x1="35.4" y1="254.2" x2="104" y2="254.2" stroke="#f0b8b8" stroke-width="0.7" stroke-dasharray="1.2 1.4"/>
<line x1="45.5" y1="227.9" x2="45.5" y2="276.3" stroke="#5e6273" stroke-width="0.9"/>
<rect x="40.1" y="246" width="10.8" height="11.8" fill="#9c9eab"/>
<line x1="40.1" y1="252.2" x2="50.9" y2="252.2" stroke="#4d5268" stroke-width="1.3"/>
<line x1="61.6" y1="238.9" x2="61.6" y2="289.7" stroke="#a31d36" stroke-width="0.9"/>
<rect x="56.1" y="258.4" width="10.9" height="13.2" fill="#ec8a80"/>
<line x1="56.1" y1="264.2" x2="67" y2="264.2" stroke="#a8142e" stroke-width="1.4"/>
<line x1="77.7" y1="239.6" x2="77.7" y2="288" stroke="#a31d36" stroke-width="0.9"/>
<rect x="72" y="254" width="11.2" height="17.9" fill="#ec8a80"/>
<line x1="72" y1="261.2" x2="83.2" y2="261.2" stroke="#a8142e" stroke-width="1.4"/>
<line x1="93.8" y1="249.2" x2="93.8" y2="274.8" stroke="#a31d36" stroke-width="0.9"/>
<rect x="88.3" y="251.8" width="11" height="10.5" fill="#ec8a80"/>
<line x1="88.3" y1="260.4" x2="99.3" y2="260.4" stroke="#a8142e" stroke-width="1.4"/>
<line x1="35.4" y1="216" x2="35.4" y2="293.7" stroke="#231f20" stroke-width="1.25"/>
<line x1="34.9" y1="293.2" x2="103.8" y2="293.2" stroke="#231f20" stroke-width="1.25"/>
<line x1="32.4" y1="218.8" x2="35.4" y2="218.8" stroke="#231f20" stroke-width="1"/>
<text x="26.68" y="221.07" font-size="6.3" textLength="3.5" lengthAdjust="spacingAndGlyphs">4</text>
<line x1="32.4" y1="236.5" x2="35.4" y2="236.5" stroke="#231f20" stroke-width="1"/>
<text x="26.81" y="238.77" font-size="6.3" textLength="3.5" lengthAdjust="spacingAndGlyphs">2</text>
<line x1="32.4" y1="254.2" x2="35.4" y2="254.2" stroke="#231f20" stroke-width="1"/>
<text x="26.74" y="256.47" font-size="6.3" textLength="3.5" lengthAdjust="spacingAndGlyphs">0</text>
<line x1="32.4" y1="271.9" x2="35.4" y2="271.9" stroke="#231f20" stroke-width="1"/>
<text x="23.13" y="274.17" font-size="6.3" textLength="7.18" lengthAdjust="spacingAndGlyphs">−2</text>
<line x1="32.4" y1="289.6" x2="35.4" y2="289.6" stroke="#231f20" stroke-width="1"/>
<text x="23" y="291.87" font-size="6.3" textLength="7.18" lengthAdjust="spacingAndGlyphs">−4</text>
<line x1="45.5" y1="293.2" x2="45.5" y2="296" stroke="#231f20" stroke-width="1"/>
<line x1="61.6" y1="293.2" x2="61.6" y2="296" stroke="#231f20" stroke-width="1"/>
<line x1="77.6" y1="293.2" x2="77.6" y2="296" stroke="#231f20" stroke-width="1"/>
<line x1="93.6" y1="293.2" x2="93.6" y2="296" stroke="#231f20" stroke-width="1"/>
<text x="34.93" y="313.29" font-size="6.4" textLength="16.15" lengthAdjust="spacingAndGlyphs" transform="rotate(-45 34.93 313.29)">NEG</text>
<text x="47.07" y="317.55" font-size="6.4" textLength="22.37" lengthAdjust="spacingAndGlyphs" transform="rotate(-45 47.07 317.55)">PCGF1</text>
<text x="64.15" y="315.97" font-size="6.4" textLength="20.42" lengthAdjust="spacingAndGlyphs" transform="rotate(-45 64.15 315.97)">BCOR</text>
<text x="82.07" y="314.15" font-size="6.4" textLength="18.3" lengthAdjust="spacingAndGlyphs" transform="rotate(-45 82.07 314.15)">RYBP</text>
<text x="16.6" y="265.21" font-size="8.4" textLength="22.04" lengthAdjust="spacingAndGlyphs" transform="rotate(-90 16.6 265.21)" class="hv">Log<tspan font-size="5.8" dy="1.3">2</tspan><tspan dy="-1.3">FC</tspan></text>
<path d="M44.10 226.20V224.20H61.00V226.20" fill="none" stroke="#231f20" stroke-width="0.9"/>
<path d="M44.10 217.10V215.10H78.70V217.10" fill="none" stroke="#231f20" stroke-width="0.9"/>
<path d="M44.10 208.50V206.50H93.40V208.50" fill="none" stroke="#231f20" stroke-width="0.9"/>
<text x="39.91" y="222.8" font-size="6.3" textLength="25.67" lengthAdjust="spacingAndGlyphs">9.87E-06</text>
<text x="48.18" y="213.8" font-size="6.3" textLength="25.6" lengthAdjust="spacingAndGlyphs">2.89E-04</text>
<text x="56.66" y="204.9" font-size="6.3" textLength="25.62" lengthAdjust="spacingAndGlyphs">3.77E-03</text>
<text x="118.22" y="196.8" font-size="10.61" textLength="7.83" lengthAdjust="spacingAndGlyphs" fill="#111" font-weight="bold">E</text>
<text x="141.99" y="220.8" font-size="6.8" textLength="40.08" lengthAdjust="spacingAndGlyphs">ACER CRISPR</text>
<text x="148.55" y="228.2" font-size="6.8" textLength="26.89" lengthAdjust="spacingAndGlyphs">knockout</text>
<text x="128.52" y="235.4" font-size="6.8" textLength="65.49" lengthAdjust="spacingAndGlyphs">sgRNA lentiviral library</text>
<path d="M145.80 249.50L150.01 250.35M148.54 250.06L149.12 251.20M145.80 249.50L148.18 253.08M147.34 251.83L146.95 253.06M145.80 249.50L144.95 253.71M145.24 252.24L144.10 252.82M145.80 249.50L142.22 251.88M143.47 251.04L142.24 250.65M145.80 249.50L141.59 248.65M143.06 248.94L142.48 247.80M145.80 249.50L143.42 245.92M144.26 247.17L144.65 245.94M145.80 249.50L146.65 245.29M146.36 246.76L147.50 246.18M145.80 249.50L149.38 247.12M148.13 247.96L149.36 248.35" fill="none" stroke="#a9cbc9" stroke-width="0.7"/>
<circle cx="145.8" cy="249.5" r="1.29" fill="#a9cbc9"/>
<path d="M151.90 247.00L155.82 247.79M154.45 247.52L154.99 248.59M151.90 247.00L154.11 250.33M153.34 249.17L152.97 250.31M151.90 247.00L151.11 250.92M151.38 249.55L150.31 250.09M151.90 247.00L148.57 249.21M149.73 248.44L148.59 248.07M151.90 247.00L147.98 246.21M149.35 246.48L148.81 245.41M151.90 247.00L149.69 243.67M150.46 244.83L150.83 243.69M151.90 247.00L152.69 243.08M152.42 244.45L153.49 243.91M151.90 247.00L155.23 244.79M154.07 245.56L155.21 245.93" fill="none" stroke="#9cc2cb" stroke-width="0.7"/>
<circle cx="151.9" cy="247" r="1.2" fill="#9cc2cb"/>
<path d="M149.20 254.60L152.53 255.28M151.37 255.04L151.83 255.95M149.20 254.60L151.08 257.43M150.42 256.44L150.11 257.41M149.20 254.60L148.52 257.93M148.76 256.77L147.85 257.23M149.20 254.60L146.37 256.48M147.36 255.82L146.39 255.51M149.20 254.60L145.87 253.92M147.03 254.16L146.57 253.25M149.20 254.60L147.32 251.77M147.98 252.76L148.29 251.79M149.20 254.60L149.88 251.27M149.64 252.43L150.55 251.97M149.20 254.60L152.03 252.72M151.04 253.38L152.01 253.69" fill="none" stroke="#c3ccd4" stroke-width="0.7"/>
<circle cx="149.2" cy="254.6" r="1.02" fill="#c3ccd4"/>
<path d="M157.30 252.60L160.63 253.28M159.47 253.04L159.93 253.95M157.30 252.60L159.18 255.43M158.52 254.44L158.21 255.41M157.30 252.60L156.62 255.93M156.86 254.77L155.95 255.23M157.30 252.60L154.47 254.48M155.46 253.82L154.49 253.51M157.30 252.60L153.97 251.92M155.13 252.16L154.67 251.25M157.30 252.60L155.42 249.77M156.08 250.76L156.39 249.79M157.30 252.60L157.98 249.27M157.74 250.43L158.65 249.97M157.30 252.60L160.13 250.72M159.14 251.38L160.11 251.69" fill="none" stroke="#e9b7a0" stroke-width="0.7"/>
<circle cx="157.3" cy="252.6" r="1.02" fill="#e9b7a0"/>
<path d="M161.50 247.20L164.83 247.88M163.67 247.64L164.13 248.55M161.50 247.20L163.38 250.03M162.72 249.04L162.41 250.01M161.50 247.20L160.82 250.53M161.06 249.37L160.15 249.83M161.50 247.20L158.67 249.08M159.66 248.42L158.69 248.11M161.50 247.20L158.17 246.52M159.33 246.76L158.87 245.85M161.50 247.20L159.62 244.37M160.28 245.36L160.59 244.39M161.50 247.20L162.18 243.87M161.94 245.03L162.85 244.57M161.50 247.20L164.33 245.32M163.34 245.98L164.31 246.29" fill="none" stroke="#d9d8a6" stroke-width="0.7"/>
<circle cx="161.5" cy="247.2" r="1.02" fill="#d9d8a6"/>
<circle cx="135.5" cy="267.7" r="2.25" fill="#fff" stroke="#a2a2a2" stroke-width="1.2"/>
<circle cx="142.8" cy="267.7" r="2.25" fill="#fff" stroke="#a2a2a2" stroke-width="1.2"/>
<circle cx="149.9" cy="267.7" r="2.25" fill="#fff" stroke="#a2a2a2" stroke-width="1.2"/>
<circle cx="139.1" cy="274.2" r="2.25" fill="#fff" stroke="#a2a2a2" stroke-width="1.2"/>
<circle cx="146.3" cy="274.2" r="2.25" fill="#fff" stroke="#a2a2a2" stroke-width="1.2"/>
<text x="132.76" y="287.9" font-size="6.8" textLength="15.76" lengthAdjust="spacingAndGlyphs">Cas9</text>
<text x="148.38" y="283" font-size="4.2" textLength="2.64" lengthAdjust="spacingAndGlyphs">+</text>
<text x="125.55" y="295.6" font-size="6.8" textLength="29.64" lengthAdjust="spacingAndGlyphs">MOLM-13</text>
<text x="159.75" y="264.2" font-size="6.8" textLength="29.42" lengthAdjust="spacingAndGlyphs">MOI = 0.5</text>
<path d="M158 263.2 C161 268.5 164 271.6 169 272.1" fill="none" stroke="#231f20" stroke-width="0.8"/>
<line x1="158" y1="272.1" x2="188.92" y2="272.1" stroke="#231f20" stroke-width="0.8"/>
<path d="M190.20 272.10L187.64 270.98L187.64 273.22Z" fill="#231f20"/>
<path d="M197.2 258.5H193.0V287.5H197.2" fill="none" stroke="#231f20" stroke-width="0.9"/>
<path d="M199.0 258.5L196.3 257.3L196.3 259.7Z" fill="#231f20"/>
<path d="M199.0 287.5L196.3 286.3L196.3 288.7Z" fill="#231f20"/>
<text x="194.24" y="274.6" font-size="6.8" textLength="4.53" lengthAdjust="spacingAndGlyphs">T</text>
<text x="198.24" y="276.6" font-size="4.4" textLength="2.32" lengthAdjust="spacingAndGlyphs">0</text>
<rect x="200.8" y="250.6" width="41.8" height="16.8" fill="#d9d8e2" rx="7" ry="7"/>
<rect x="200.8" y="277.3" width="41.8" height="16.7" fill="#dfecd4" rx="7" ry="7"/>
<text x="203.37" y="246.8" font-size="6.8" textLength="19.44" lengthAdjust="spacingAndGlyphs">DMSO</text>
<text x="202.37" y="302.6" font-size="6.8" textLength="31.59" lengthAdjust="spacingAndGlyphs">Venetoclax</text>
<circle cx="204.9" cy="257.6" r="2.5" fill="#f8faf8" stroke="#b5dcb0" stroke-width="1.5"/>
<circle cx="212.3" cy="257.6" r="2.5" fill="#f8faf8" stroke="#b0d0e6" stroke-width="1.5"/>
<circle cx="219.6" cy="257.6" r="2.5" fill="#f8faf8" stroke="#ebe0b0" stroke-width="1.5"/>
<circle cx="208.6" cy="263.7" r="2.5" fill="#f8faf8" stroke="#b0d0e6" stroke-width="1.5"/>
<circle cx="216.4" cy="263.7" r="2.5" fill="#f8faf8" stroke="#f0c0a4" stroke-width="1.5"/>
<circle cx="204.9" cy="284.1" r="2.6" fill="#f4f8f2" stroke="#a9cfa3" stroke-width="1.4"/>
<circle cx="212.3" cy="284.1" r="2.6" fill="#f4f8f2" stroke="#a6c4da" stroke-width="1.4"/>
<circle cx="219.6" cy="284.1" r="2.6" fill="#f4f8f2" stroke="#c9d8a8" stroke-width="1.4"/>
<circle cx="208.6" cy="290.4" r="2.6" fill="#f4f8f2" stroke="#a6c4da" stroke-width="1.4"/>
<circle cx="215.9" cy="290.4" r="2.6" fill="#f4f8f2" stroke="#e8b898" stroke-width="1.4"/>
<line x1="223.6" y1="258.6" x2="229.6" y2="258.6" stroke="#231f20" stroke-width="0.9"/>
<path d="M230.80 258.60L228.40 257.55L228.40 259.65Z" fill="#231f20"/>
<line x1="223.6" y1="286.5" x2="229.6" y2="286.5" stroke="#231f20" stroke-width="0.9"/>
<path d="M230.80 286.50L228.40 285.45L228.40 287.55Z" fill="#231f20"/>
<text x="232.01" y="261.3" font-size="7.4" textLength="5.4" lengthAdjust="spacingAndGlyphs">T</text>
<text x="235.87" y="264" font-size="4.8" textLength="4.86" lengthAdjust="spacingAndGlyphs">14</text>
<text x="232.01" y="289.3" font-size="7.4" textLength="5.4" lengthAdjust="spacingAndGlyphs">T</text>
<text x="235.87" y="292" font-size="4.8" textLength="4.86" lengthAdjust="spacingAndGlyphs">14</text>
<path d="M242.6 259.6H245.2V288.0H242.6M245.2 272.4H248.5" fill="none" stroke="#555" stroke-width="0.6"/>
<text x="246.44" y="234.6" font-size="6.8" textLength="25.99" lengthAdjust="spacingAndGlyphs">Mapping</text>
<text x="250.85" y="241.9" font-size="6.8" textLength="17.76" lengthAdjust="spacingAndGlyphs">sgRNA</text>
<text x="242.33" y="249.1" font-size="6.8" textLength="32.22" lengthAdjust="spacingAndGlyphs">enrichment</text>
<rect x="248.6" y="268.6" width="13.5" height="10.8" fill="#f1f1f1" stroke="#9a9a9a" stroke-width="0.5"/>
<line x1="248.8" y1="273" x2="262" y2="273" stroke="#b0b0b0" stroke-width="0.5"/>
<rect x="264.4" y="258.6" width="11.9" height="20.8" fill="#f1f1f1" stroke="#9a9a9a" stroke-width="0.5"/>
<rect x="249.3" y="259.4" width="12.8" height="9" fill="#2f4450"/>
<rect x="250.4" y="260.5" width="10.8" height="6.9" fill="#a9d0e2"/>
<rect x="261.9" y="258.6" width="2.7" height="20.8" fill="#3c3c3c"/>
<line x1="264.4" y1="267.4" x2="276.3" y2="267.4" stroke="#333" stroke-width="0.9"/>
<text x="291.78" y="196.4" font-size="10.03" textLength="7.56" lengthAdjust="spacingAndGlyphs" fill="#111" font-weight="bold">F</text>
<path d="M365.9 284.7h.9v.9h-.9zM352.1 283.8h.9v.9h-.9zM363.1 288.1h.9v.9h-.9zM350.7 289.0h.9v.9h-.9zM392.7 289.0h.9v.9h-.9zM342.3 261.3h.9v.9h-.9zM343.4 281.6h.9v.9h-.9zM351.9 289.3h.9v.9h-.9zM358.9 287.4h.9v.9h-.9zM340.3 274.0h.9v.9h-.9zM356.0 281.1h.9v.9h-.9zM346.8 287.0h.9v.9h-.9zM340.5 274.2h.9v.9h-.9zM362.1 286.9h.9v.9h-.9zM351.0 285.4h.9v.9h-.9zM341.0 273.8h.9v.9h-.9zM356.7 269.2h.9v.9h-.9zM355.8 289.2h.9v.9h-.9zM340.3 276.9h.9v.9h-.9zM336.5 261.4h.9v.9h-.9zM366.2 288.7h.9v.9h-.9zM353.1 288.1h.9v.9h-.9zM350.6 284.7h.9v.9h-.9zM356.3 281.0h.9v.9h-.9zM346.8 285.1h.9v.9h-.9zM346.0 275.9h.9v.9h-.9zM339.3 271.4h.9v.9h-.9zM351.2 281.0h.9v.9h-.9zM348.6 287.8h.9v.9h-.9zM347.5 286.8h.9v.9h-.9zM343.5 282.3h.9v.9h-.9zM358.2 284.7h.9v.9h-.9zM362.1 284.2h.9v.9h-.9zM358.3 288.4h.9v.9h-.9zM339.1 275.3h.9v.9h-.9zM339.7 265.8h.9v.9h-.9zM341.3 264.2h.9v.9h-.9zM384.5 288.9h.9v.9h-.9zM349.6 287.5h.9v.9h-.9zM349.8 282.1h.9v.9h-.9zM348.9 288.2h.9v.9h-.9zM346.8 282.8h.9v.9h-.9zM346.5 281.7h.9v.9h-.9zM375.9 289.7h.9v.9h-.9zM350.5 284.8h.9v.9h-.9zM345.3 282.6h.9v.9h-.9zM368.1 286.0h.9v.9h-.9zM357.7 279.8h.9v.9h-.9zM350.7 288.5h.9v.9h-.9zM341.6 279.5h.9v.9h-.9zM359.8 289.6h.9v.9h-.9zM355.3 286.5h.9v.9h-.9zM367.1 289.1h.9v.9h-.9zM344.8 278.4h.9v.9h-.9zM346.5 276.4h.9v.9h-.9zM340.5 270.1h.9v.9h-.9zM350.1 285.2h.9v.9h-.9zM360.7 281.4h.9v.9h-.9zM346.0 282.3h.9v.9h-.9zM339.6 271.7h.9v.9h-.9zM346.6 285.6h.9v.9h-.9zM353.5 274.3h.9v.9h-.9zM361.4 289.5h.9v.9h-.9zM347.5 279.6h.9v.9h-.9zM346.3 281.7h.9v.9h-.9zM345.0 280.1h.9v.9h-.9zM361.4 288.2h.9v.9h-.9zM343.5 270.8h.9v.9h-.9zM344.9 280.5h.9v.9h-.9zM343.8 268.9h.9v.9h-.9zM353.2 285.7h.9v.9h-.9zM348.3 283.9h.9v.9h-.9zM343.2 273.7h.9v.9h-.9zM373.8 288.2h.9v.9h-.9zM349.2 287.1h.9v.9h-.9zM354.1 284.0h.9v.9h-.9zM339.0 274.2h.9v.9h-.9zM351.0 272.2h.9v.9h-.9zM344.6 282.6h.9v.9h-.9zM363.4 284.6h.9v.9h-.9zM349.4 287.5h.9v.9h-.9zM347.0 284.8h.9v.9h-.9zM350.2 280.7h.9v.9h-.9zM373.1 287.9h.9v.9h-.9zM360.2 288.1h.9v.9h-.9zM348.9 288.1h.9v.9h-.9zM350.0 286.2h.9v.9h-.9zM350.4 277.8h.9v.9h-.9zM342.7 276.4h.9v.9h-.9zM343.0 278.9h.9v.9h-.9zM360.1 284.6h.9v.9h-.9zM358.2 282.6h.9v.9h-.9zM348.5 276.2h.9v.9h-.9zM351.8 287.8h.9v.9h-.9zM347.5 275.3h.9v.9h-.9zM346.2 270.2h.9v.9h-.9zM341.6 257.5h.9v.9h-.9zM339.6 269.3h.9v.9h-.9zM355.5 286.1h.9v.9h-.9zM344.8 277.3h.9v.9h-.9zM352.7 289.6h.9v.9h-.9zM351.9 288.2h.9v.9h-.9zM342.8 276.6h.9v.9h-.9zM344.8 278.8h.9v.9h-.9zM351.5 279.8h.9v.9h-.9zM354.0 289.0h.9v.9h-.9zM347.6 283.4h.9v.9h-.9zM359.1 283.5h.9v.9h-.9zM346.8 282.8h.9v.9h-.9zM343.7 270.1h.9v.9h-.9zM348.0 273.6h.9v.9h-.9zM350.4 287.9h.9v.9h-.9zM345.8 283.8h.9v.9h-.9zM345.2 283.6h.9v.9h-.9zM348.6 276.0h.9v.9h-.9zM355.1 289.2h.9v.9h-.9zM367.3 285.2h.9v.9h-.9zM350.4 284.3h.9v.9h-.9zM353.5 285.0h.9v.9h-.9zM366.8 286.5h.9v.9h-.9zM346.9 281.6h.9v.9h-.9zM354.1 289.6h.9v.9h-.9zM351.0 287.6h.9v.9h-.9zM350.1 281.6h.9v.9h-.9zM348.4 278.6h.9v.9h-.9zM356.8 287.9h.9v.9h-.9zM352.2 284.9h.9v.9h-.9zM356.3 288.3h.9v.9h-.9zM349.7 281.3h.9v.9h-.9zM351.5 281.7h.9v.9h-.9zM348.5 287.5h.9v.9h-.9zM365.3 286.6h.9v.9h-.9zM341.2 268.0h.9v.9h-.9zM386.8 288.6h.9v.9h-.9zM341.0 278.7h.9v.9h-.9zM349.5 285.1h.9v.9h-.9zM351.4 288.7h.9v.9h-.9zM349.6 280.0h.9v.9h-.9zM338.7 260.3h.9v.9h-.9zM351.7 283.8h.9v.9h-.9zM356.5 288.0h.9v.9h-.9zM345.8 283.6h.9v.9h-.9zM351.6 288.4h.9v.9h-.9zM336.7 267.5h.9v.9h-.9zM345.3 264.0h.9v.9h-.9zM348.4 284.4h.9v.9h-.9zM346.2 285.0h.9v.9h-.9zM339.3 273.9h.9v.9h-.9zM345.2 284.6h.9v.9h-.9zM359.3 288.3h.9v.9h-.9zM367.4 289.7h.9v.9h-.9zM347.0 273.0h.9v.9h-.9zM355.0 285.4h.9v.9h-.9zM345.3 275.9h.9v.9h-.9zM337.0 269.1h.9v.9h-.9zM362.9 285.4h.9v.9h-.9zM342.1 271.7h.9v.9h-.9zM361.5 285.4h.9v.9h-.9zM354.8 289.2h.9v.9h-.9zM351.0 281.1h.9v.9h-.9zM362.2 287.5h.9v.9h-.9zM346.5 280.6h.9v.9h-.9zM375.8 283.3h.9v.9h-.9zM366.2 279.5h.9v.9h-.9zM365.0 289.6h.9v.9h-.9zM347.5 285.4h.9v.9h-.9zM351.9 285.8h.9v.9h-.9zM347.6 283.0h.9v.9h-.9zM350.7 260.7h.9v.9h-.9zM349.0 275.7h.9v.9h-.9zM359.8 277.7h.9v.9h-.9zM350.8 284.4h.9v.9h-.9zM346.7 284.0h.9v.9h-.9zM347.2 285.1h.9v.9h-.9zM347.9 282.0h.9v.9h-.9zM349.2 282.8h.9v.9h-.9zM341.4 279.0h.9v.9h-.9zM352.6 289.4h.9v.9h-.9zM354.9 277.8h.9v.9h-.9zM365.5 289.4h.9v.9h-.9zM347.9 265.2h.9v.9h-.9zM353.9 284.3h.9v.9h-.9zM371.9 287.4h.9v.9h-.9zM347.8 284.4h.9v.9h-.9zM342.4 275.3h.9v.9h-.9zM347.5 284.6h.9v.9h-.9zM356.1 289.3h.9v.9h-.9zM342.5 280.4h.9v.9h-.9zM356.5 287.2h.9v.9h-.9zM348.6 283.3h.9v.9h-.9zM335.2 263.8h.9v.9h-.9zM342.8 270.8h.9v.9h-.9zM347.1 281.4h.9v.9h-.9zM349.1 282.7h.9v.9h-.9zM342.3 281.2h.9v.9h-.9zM341.1 268.7h.9v.9h-.9zM359.0 289.5h.9v.9h-.9zM345.2 281.5h.9v.9h-.9zM347.2 283.1h.9v.9h-.9zM345.1 283.0h.9v.9h-.9zM352.6 285.8h.9v.9h-.9zM341.3 278.2h.9v.9h-.9zM364.5 289.1h.9v.9h-.9zM351.0 277.3h.9v.9h-.9zM345.8 285.1h.9v.9h-.9zM359.0 280.8h.9v.9h-.9zM362.6 286.4h.9v.9h-.9zM349.9 285.0h.9v.9h-.9zM358.4 288.9h.9v.9h-.9zM347.0 284.1h.9v.9h-.9zM347.1 286.8h.9v.9h-.9zM345.6 280.5h.9v.9h-.9zM343.4 278.8h.9v.9h-.9zM353.6 286.0h.9v.9h-.9zM357.6 285.9h.9v.9h-.9zM343.9 268.4h.9v.9h-.9zM348.6 268.9h.9v.9h-.9zM353.4 286.5h.9v.9h-.9zM339.7 266.5h.9v.9h-.9zM350.4 285.9h.9v.9h-.9zM350.4 285.5h.9v.9h-.9zM343.2 276.2h.9v.9h-.9zM343.4 274.4h.9v.9h-.9zM339.4 271.7h.9v.9h-.9zM365.3 289.6h.9v.9h-.9zM334.5 260.9h.9v.9h-.9zM349.2 275.9h.9v.9h-.9zM364.1 289.1h.9v.9h-.9zM346.1 270.2h.9v.9h-.9zM346.9 278.1h.9v.9h-.9zM350.5 287.4h.9v.9h-.9zM354.8 277.5h.9v.9h-.9zM361.2 286.3h.9v.9h-.9zM346.4 283.2h.9v.9h-.9zM349.2 279.3h.9v.9h-.9zM346.6 280.4h.9v.9h-.9zM348.3 275.8h.9v.9h-.9zM359.2 281.1h.9v.9h-.9zM344.1 279.2h.9v.9h-.9zM359.3 288.5h.9v.9h-.9zM348.9 285.8h.9v.9h-.9zM352.7 286.9h.9v.9h-.9zM352.3 289.3h.9v.9h-.9zM343.9 277.0h.9v.9h-.9zM364.3 289.3h.9v.9h-.9zM354.7 289.5h.9v.9h-.9zM349.6 288.1h.9v.9h-.9zM349.6 282.1h.9v.9h-.9zM349.3 288.1h.9v.9h-.9zM352.6 286.6h.9v.9h-.9zM345.6 275.3h.9v.9h-.9zM337.2 268.9h.9v.9h-.9zM354.2 283.0h.9v.9h-.9zM354.0 289.4h.9v.9h-.9zM347.3 276.0h.9v.9h-.9zM355.3 287.1h.9v.9h-.9zM342.0 280.7h.9v.9h-.9zM347.1 285.8h.9v.9h-.9zM345.2 279.1h.9v.9h-.9zM349.9 286.5h.9v.9h-.9zM349.0 272.5h.9v.9h-.9zM348.4 287.2h.9v.9h-.9zM348.6 288.4h.9v.9h-.9zM338.9 273.8h.9v.9h-.9zM356.8 289.1h.9v.9h-.9zM360.2 284.4h.9v.9h-.9zM348.0 282.3h.9v.9h-.9zM351.8 285.2h.9v.9h-.9zM353.1 289.0h.9v.9h-.9zM349.6 283.4h.9v.9h-.9zM342.7 274.6h.9v.9h-.9zM352.4 284.4h.9v.9h-.9zM347.6 286.0h.9v.9h-.9zM348.8 284.5h.9v.9h-.9zM339.6 274.7h.9v.9h-.9zM342.2 279.2h.9v.9h-.9zM344.5 282.7h.9v.9h-.9zM339.8 276.1h.9v.9h-.9zM344.8 281.6h.9v.9h-.9zM356.3 286.8h.9v.9h-.9zM349.2 285.6h.9v.9h-.9zM346.7 278.6h.9v.9h-.9zM344.8 265.1h.9v.9h-.9zM340.5 274.8h.9v.9h-.9zM357.1 289.0h.9v.9h-.9zM359.6 285.4h.9v.9h-.9zM348.6 282.1h.9v.9h-.9zM353.2 288.7h.9v.9h-.9zM360.2 289.2h.9v.9h-.9zM346.7 280.9h.9v.9h-.9zM344.7 275.1h.9v.9h-.9zM358.3 289.7h.9v.9h-.9zM357.3 279.5h.9v.9h-.9zM346.8 281.8h.9v.9h-.9zM348.8 286.2h.9v.9h-.9zM347.7 283.7h.9v.9h-.9zM342.7 274.9h.9v.9h-.9zM339.7 269.9h.9v.9h-.9zM351.5 286.1h.9v.9h-.9zM343.8 283.6h.9v.9h-.9zM345.2 274.4h.9v.9h-.9zM350.8 287.9h.9v.9h-.9zM345.8 282.5h.9v.9h-.9zM354.4 286.0h.9v.9h-.9zM354.8 288.7h.9v.9h-.9zM344.3 283.1h.9v.9h-.9zM345.1 282.8h.9v.9h-.9zM357.4 275.3h.9v.9h-.9zM353.1 288.7h.9v.9h-.9zM355.0 287.5h.9v.9h-.9zM339.2 274.7h.9v.9h-.9zM360.5 288.1h.9v.9h-.9zM338.5 265.9h.9v.9h-.9zM347.0 278.4h.9v.9h-.9zM343.3 282.2h.9v.9h-.9zM346.1 284.4h.9v.9h-.9zM351.1 285.6h.9v.9h-.9zM349.7 287.2h.9v.9h-.9zM347.9 286.4h.9v.9h-.9zM351.0 288.5h.9v.9h-.9zM352.4 282.0h.9v.9h-.9zM343.2 279.8h.9v.9h-.9zM368.9 277.9h.9v.9h-.9zM340.6 273.3h.9v.9h-.9zM364.9 284.9h.9v.9h-.9zM352.3 283.5h.9v.9h-.9zM337.9 269.8h.9v.9h-.9zM339.2 270.2h.9v.9h-.9zM342.8 282.0h.9v.9h-.9zM359.4 289.2h.9v.9h-.9zM357.3 284.7h.9v.9h-.9zM343.8 283.4h.9v.9h-.9zM372.2 286.7h.9v.9h-.9zM336.4 260.8h.9v.9h-.9zM350.6 272.6h.9v.9h-.9zM348.1 278.1h.9v.9h-.9zM347.6 269.9h.9v.9h-.9zM353.6 283.2h.9v.9h-.9zM353.5 289.8h.9v.9h-.9zM359.5 289.2h.9v.9h-.9zM345.5 275.4h.9v.9h-.9zM375.2 289.4h.9v.9h-.9zM370.7 286.7h.9v.9h-.9zM344.5 284.3h.9v.9h-.9zM366.3 286.8h.9v.9h-.9zM346.8 274.3h.9v.9h-.9zM354.0 284.3h.9v.9h-.9zM367.2 287.9h.9v.9h-.9zM350.4 288.0h.9v.9h-.9zM342.8 278.8h.9v.9h-.9zM345.0 270.1h.9v.9h-.9zM351.9 279.6h.9v.9h-.9zM351.0 284.8h.9v.9h-.9zM344.1 279.2h.9v.9h-.9zM349.5 288.1h.9v.9h-.9zM360.7 285.8h.9v.9h-.9zM342.1 271.4h.9v.9h-.9zM338.7 267.5h.9v.9h-.9zM349.7 287.0h.9v.9h-.9zM348.1 284.9h.9v.9h-.9zM356.4 283.3h.9v.9h-.9zM351.1 287.3h.9v.9h-.9zM353.7 289.0h.9v.9h-.9zM364.0 287.0h.9v.9h-.9zM354.6 288.0h.9v.9h-.9zM356.3 278.0h.9v.9h-.9zM340.3 267.2h.9v.9h-.9zM342.0 281.0h.9v.9h-.9zM344.2 280.6h.9v.9h-.9zM348.1 273.9h.9v.9h-.9zM349.5 283.5h.9v.9h-.9zM350.3 288.3h.9v.9h-.9zM364.3 287.5h.9v.9h-.9zM345.1 276.4h.9v.9h-.9zM346.5 284.1h.9v.9h-.9zM365.3 289.5h.9v.9h-.9zM357.5 279.1h.9v.9h-.9zM355.9 288.4h.9v.9h-.9zM352.2 284.9h.9v.9h-.9zM353.1 289.2h.9v.9h-.9zM359.7 282.6h.9v.9h-.9zM353.8 288.5h.9v.9h-.9zM356.8 289.4h.9v.9h-.9zM360.4 287.2h.9v.9h-.9zM352.6 289.0h.9v.9h-.9zM354.4 288.3h.9v.9h-.9zM339.5 274.6h.9v.9h-.9zM349.2 285.9h.9v.9h-.9zM339.7 259.7h.9v.9h-.9zM351.9 288.5h.9v.9h-.9zM346.9 278.1h.9v.9h-.9zM350.7 288.5h.9v.9h-.9zM341.8 277.5h.9v.9h-.9zM347.7 287.6h.9v.9h-.9zM357.2 284.5h.9v.9h-.9zM360.8 285.9h.9v.9h-.9zM377.3 289.5h.9v.9h-.9zM350.0 280.9h.9v.9h-.9zM340.6 272.8h.9v.9h-.9zM344.8 271.3h.9v.9h-.9zM347.8 285.7h.9v.9h-.9zM351.5 287.7h.9v.9h-.9zM354.0 288.3h.9v.9h-.9zM356.6 287.7h.9v.9h-.9zM343.1 280.1h.9v.9h-.9zM350.8 287.8h.9v.9h-.9zM348.4 286.0h.9v.9h-.9zM355.2 289.6h.9v.9h-.9zM341.1 267.9h.9v.9h-.9zM350.8 287.1h.9v.9h-.9zM350.3 286.0h.9v.9h-.9zM342.4 278.8h.9v.9h-.9zM368.2 285.7h.9v.9h-.9zM351.5 286.4h.9v.9h-.9zM349.0 287.5h.9v.9h-.9zM350.9 282.1h.9v.9h-.9zM345.1 283.1h.9v.9h-.9zM342.1 279.3h.9v.9h-.9zM365.9 288.4h.9v.9h-.9zM349.2 287.0h.9v.9h-.9zM345.8 272.7h.9v.9h-.9zM346.8 286.9h.9v.9h-.9zM347.7 281.3h.9v.9h-.9zM346.3 275.7h.9v.9h-.9zM337.2 268.4h.9v.9h-.9zM352.9 279.8h.9v.9h-.9zM370.2 287.5h.9v.9h-.9zM354.8 289.0h.9v.9h-.9zM350.7 286.4h.9v.9h-.9zM352.5 287.0h.9v.9h-.9zM357.5 288.2h.9v.9h-.9zM355.3 287.5h.9v.9h-.9zM354.0 288.4h.9v.9h-.9zM346.5 279.5h.9v.9h-.9zM351.2 285.9h.9v.9h-.9zM365.0 289.3h.9v.9h-.9zM346.5 286.4h.9v.9h-.9zM364.8 289.6h.9v.9h-.9zM365.2 287.2h.9v.9h-.9zM362.6 288.0h.9v.9h-.9zM348.4 286.0h.9v.9h-.9zM336.5 265.5h.9v.9h-.9zM359.3 285.3h.9v.9h-.9zM357.2 287.0h.9v.9h-.9zM338.2 269.3h.9v.9h-.9zM347.2 283.8h.9v.9h-.9zM358.1 288.4h.9v.9h-.9zM355.8 287.6h.9v.9h-.9zM352.1 285.5h.9v.9h-.9zM351.4 284.0h.9v.9h-.9zM353.1 282.8h.9v.9h-.9zM336.2 260.2h.9v.9h-.9zM354.6 286.6h.9v.9h-.9zM350.5 279.7h.9v.9h-.9zM374.0 288.3h.9v.9h-.9zM352.9 284.0h.9v.9h-.9zM343.7 278.0h.9v.9h-.9zM347.3 287.5h.9v.9h-.9zM352.6 283.7h.9v.9h-.9zM354.9 289.2h.9v.9h-.9zM351.3 288.8h.9v.9h-.9zM345.2 277.2h.9v.9h-.9zM341.0 272.4h.9v.9h-.9zM346.7 283.8h.9v.9h-.9zM357.2 287.3h.9v.9h-.9zM355.0 286.4h.9v.9h-.9zM351.0 274.8h.9v.9h-.9zM348.7 285.1h.9v.9h-.9zM350.9 276.0h.9v.9h-.9zM349.1 285.8h.9v.9h-.9zM358.9 289.7h.9v.9h-.9zM338.8 265.7h.9v.9h-.9zM346.0 285.2h.9v.9h-.9zM358.6 285.5h.9v.9h-.9zM352.7 288.7h.9v.9h-.9zM345.3 278.6h.9v.9h-.9zM351.6 289.6h.9v.9h-.9zM350.2 284.2h.9v.9h-.9zM343.7 274.2h.9v.9h-.9zM358.2 285.6h.9v.9h-.9zM357.1 285.6h.9v.9h-.9zM345.1 283.1h.9v.9h-.9zM355.2 288.8h.9v.9h-.9zM352.4 287.3h.9v.9h-.9zM352.1 289.6h.9v.9h-.9zM354.8 288.5h.9v.9h-.9zM349.9 284.2h.9v.9h-.9zM350.6 287.2h.9v.9h-.9zM348.5 286.6h.9v.9h-.9zM350.9 284.2h.9v.9h-.9zM344.3 284.2h.9v.9h-.9zM341.6 275.8h.9v.9h-.9zM343.8 280.7h.9v.9h-.9zM366.3 287.0h.9v.9h-.9zM352.2 284.8h.9v.9h-.9zM341.8 278.8h.9v.9h-.9zM353.9 288.7h.9v.9h-.9zM342.9 277.9h.9v.9h-.9zM342.3 262.5h.9v.9h-.9zM342.9 275.6h.9v.9h-.9zM352.8 275.9h.9v.9h-.9zM344.1 277.4h.9v.9h-.9zM345.6 285.4h.9v.9h-.9zM349.1 287.3h.9v.9h-.9zM348.7 287.6h.9v.9h-.9zM356.0 285.9h.9v.9h-.9zM356.5 281.1h.9v.9h-.9zM351.1 287.0h.9v.9h-.9zM345.0 278.3h.9v.9h-.9zM353.4 278.2h.9v.9h-.9zM354.1 288.8h.9v.9h-.9zM347.1 286.1h.9v.9h-.9zM345.7 285.4h.9v.9h-.9zM349.8 283.2h.9v.9h-.9zM348.3 286.5h.9v.9h-.9zM360.8 288.8h.9v.9h-.9zM348.4 287.7h.9v.9h-.9zM344.3 279.4h.9v.9h-.9zM339.6 264.6h.9v.9h-.9zM368.2 288.1h.9v.9h-.9zM364.5 281.2h.9v.9h-.9zM345.1 281.0h.9v.9h-.9zM349.0 273.3h.9v.9h-.9zM348.3 283.8h.9v.9h-.9zM343.2 279.8h.9v.9h-.9zM349.8 280.5h.9v.9h-.9zM347.2 282.0h.9v.9h-.9zM357.4 283.6h.9v.9h-.9zM345.5 282.1h.9v.9h-.9zM340.3 266.9h.9v.9h-.9zM348.8 278.4h.9v.9h-.9zM349.7 278.4h.9v.9h-.9zM349.7 288.6h.9v.9h-.9zM346.0 284.0h.9v.9h-.9zM348.3 266.1h.9v.9h-.9zM361.3 276.2h.9v.9h-.9zM343.1 279.2h.9v.9h-.9zM349.4 275.8h.9v.9h-.9zM351.6 287.9h.9v.9h-.9zM352.8 281.0h.9v.9h-.9zM349.7 284.0h.9v.9h-.9zM348.5 276.1h.9v.9h-.9zM346.8 269.7h.9v.9h-.9zM353.1 288.4h.9v.9h-.9zM340.7 272.7h.9v.9h-.9zM353.6 288.7h.9v.9h-.9zM351.0 281.6h.9v.9h-.9zM357.5 289.2h.9v.9h-.9zM338.1 272.0h.9v.9h-.9zM352.3 287.9h.9v.9h-.9zM355.9 286.6h.9v.9h-.9zM359.7 287.0h.9v.9h-.9zM359.0 288.6h.9v.9h-.9zM347.8 284.4h.9v.9h-.9zM346.0 281.8h.9v.9h-.9zM364.3 287.9h.9v.9h-.9zM346.2 286.0h.9v.9h-.9zM353.8 285.3h.9v.9h-.9zM348.5 275.2h.9v.9h-.9zM368.5 284.6h.9v.9h-.9zM342.0 279.4h.9v.9h-.9zM347.2 282.4h.9v.9h-.9zM354.2 273.4h.9v.9h-.9zM353.7 284.6h.9v.9h-.9zM346.5 282.0h.9v.9h-.9zM358.0 289.2h.9v.9h-.9zM337.1 263.4h.9v.9h-.9zM344.5 279.7h.9v.9h-.9zM356.0 288.6h.9v.9h-.9zM355.6 287.3h.9v.9h-.9zM341.9 273.6h.9v.9h-.9zM348.2 283.1h.9v.9h-.9zM358.4 285.8h.9v.9h-.9zM352.7 280.4h.9v.9h-.9zM371.0 289.6h.9v.9h-.9zM351.6 284.4h.9v.9h-.9zM349.6 280.3h.9v.9h-.9zM350.7 259.8h.9v.9h-.9zM342.7 274.8h.9v.9h-.9zM344.6 279.5h.9v.9h-.9zM345.2 285.4h.9v.9h-.9zM354.8 287.7h.9v.9h-.9zM349.2 288.5h.9v.9h-.9zM345.2 278.3h.9v.9h-.9zM345.2 281.5h.9v.9h-.9zM353.5 287.3h.9v.9h-.9zM365.4 288.7h.9v.9h-.9zM368.7 289.7h.9v.9h-.9zM371.9 289.6h.9v.9h-.9zM348.2 283.3h.9v.9h-.9zM347.5 286.7h.9v.9h-.9zM356.7 288.7h.9v.9h-.9zM348.8 286.8h.9v.9h-.9zM350.2 287.4h.9v.9h-.9zM346.3 284.7h.9v.9h-.9zM347.3 284.6h.9v.9h-.9zM352.6 288.4h.9v.9h-.9zM354.9 283.5h.9v.9h-.9zM338.5 261.5h.9v.9h-.9zM363.7 289.7h.9v.9h-.9zM354.8 279.2h.9v.9h-.9zM348.2 283.3h.9v.9h-.9zM334.3 260.9h.9v.9h-.9zM341.7 273.8h.9v.9h-.9zM352.5 288.8h.9v.9h-.9zM361.2 286.4h.9v.9h-.9zM335.7 264.8h.9v.9h-.9zM352.1 283.9h.9v.9h-.9zM345.7 278.3h.9v.9h-.9zM356.2 285.9h.9v.9h-.9zM349.8 285.0h.9v.9h-.9zM352.6 289.4h.9v.9h-.9zM346.3 283.0h.9v.9h-.9zM355.8 287.7h.9v.9h-.9zM349.8 284.2h.9v.9h-.9zM341.6 278.0h.9v.9h-.9zM343.4 260.9h.9v.9h-.9zM339.6 262.2h.9v.9h-.9zM357.0 286.7h.9v.9h-.9zM347.3 282.2h.9v.9h-.9zM341.4 277.8h.9v.9h-.9zM349.5 287.3h.9v.9h-.9zM352.2 273.0h.9v.9h-.9zM348.5 286.9h.9v.9h-.9zM342.0 274.6h.9v.9h-.9zM354.0 286.5h.9v.9h-.9zM367.9 289.3h.9v.9h-.9zM360.5 289.4h.9v.9h-.9zM371.2 281.1h.9v.9h-.9zM341.2 277.9h.9v.9h-.9zM345.5 285.2h.9v.9h-.9zM347.5 268.6h.9v.9h-.9zM347.4 277.9h.9v.9h-.9zM349.3 284.7h.9v.9h-.9zM342.0 278.5h.9v.9h-.9zM344.0 274.5h.9v.9h-.9zM360.9 288.7h.9v.9h-.9zM347.8 263.6h.9v.9h-.9zM353.5 285.2h.9v.9h-.9zM350.5 274.2h.9v.9h-.9zM366.8 289.5h.9v.9h-.9zM356.3 285.8h.9v.9h-.9zM360.2 279.8h.9v.9h-.9zM351.2 276.9h.9v.9h-.9zM352.6 282.3h.9v.9h-.9zM350.8 286.2h.9v.9h-.9zM351.6 283.5h.9v.9h-.9zM348.0 282.5h.9v.9h-.9zM352.1 284.2h.9v.9h-.9zM348.6 286.4h.9v.9h-.9zM346.9 278.6h.9v.9h-.9zM365.2 287.3h.9v.9h-.9zM347.6 279.1h.9v.9h-.9zM366.6 281.6h.9v.9h-.9zM354.6 284.6h.9v.9h-.9zM347.5 287.6h.9v.9h-.9zM351.2 273.8h.9v.9h-.9zM351.4 282.6h.9v.9h-.9zM336.6 264.1h.9v.9h-.9zM351.5 275.8h.9v.9h-.9zM358.6 287.9h.9v.9h-.9zM354.3 281.8h.9v.9h-.9zM345.7 270.2h.9v.9h-.9zM356.2 279.8h.9v.9h-.9zM366.0 286.9h.9v.9h-.9zM349.0 278.7h.9v.9h-.9zM355.0 287.3h.9v.9h-.9zM355.3 287.3h.9v.9h-.9zM355.6 286.9h.9v.9h-.9zM348.0 283.7h.9v.9h-.9zM341.6 273.3h.9v.9h-.9zM344.6 283.1h.9v.9h-.9zM345.1 268.3h.9v.9h-.9zM370.4 287.2h.9v.9h-.9zM346.5 276.6h.9v.9h-.9zM355.7 284.7h.9v.9h-.9zM355.6 283.8h.9v.9h-.9zM348.7 286.1h.9v.9h-.9zM351.6 265.7h.9v.9h-.9zM354.2 289.2h.9v.9h-.9zM352.0 288.7h.9v.9h-.9zM348.9 286.6h.9v.9h-.9zM359.2 289.2h.9v.9h-.9zM351.4 279.9h.9v.9h-.9zM365.0 289.1h.9v.9h-.9zM357.9 288.1h.9v.9h-.9zM349.5 287.9h.9v.9h-.9zM349.1 285.2h.9v.9h-.9zM343.6 282.8h.9v.9h-.9zM348.6 282.8h.9v.9h-.9zM347.0 279.5h.9v.9h-.9zM344.3 258.0h.9v.9h-.9zM342.8 266.5h.9v.9h-.9zM348.0 282.2h.9v.9h-.9zM343.5 266.7h.9v.9h-.9zM337.2 262.5h.9v.9h-.9zM334.8 262.9h.9v.9h-.9zM342.6 274.7h.9v.9h-.9zM350.2 277.7h.9v.9h-.9zM371.0 289.8h.9v.9h-.9zM344.8 274.5h.9v.9h-.9zM347.0 286.3h.9v.9h-.9zM348.5 287.2h.9v.9h-.9zM351.2 283.4h.9v.9h-.9zM361.0 287.5h.9v.9h-.9zM353.0 288.2h.9v.9h-.9zM345.1 276.7h.9v.9h-.9zM351.9 287.5h.9v.9h-.9zM353.8 287.3h.9v.9h-.9zM349.1 288.1h.9v.9h-.9zM348.4 278.7h.9v.9h-.9zM343.0 276.5h.9v.9h-.9zM348.3 287.4h.9v.9h-.9zM354.8 285.2h.9v.9h-.9zM337.1 269.2h.9v.9h-.9zM357.3 285.6h.9v.9h-.9zM359.8 286.3h.9v.9h-.9zM348.6 285.7h.9v.9h-.9zM357.3 284.3h.9v.9h-.9zM378.2 289.7h.9v.9h-.9zM348.8 288.5h.9v.9h-.9zM355.1 271.9h.9v.9h-.9zM339.7 267.0h.9v.9h-.9zM346.6 279.1h.9v.9h-.9zM343.6 280.1h.9v.9h-.9zM350.2 278.7h.9v.9h-.9zM352.8 288.7h.9v.9h-.9zM339.3 266.0h.9v.9h-.9zM353.7 289.4h.9v.9h-.9zM357.5 288.1h.9v.9h-.9zM351.4 282.6h.9v.9h-.9zM347.5 283.4h.9v.9h-.9zM351.4 289.1h.9v.9h-.9zM349.5 277.6h.9v.9h-.9zM351.7 286.4h.9v.9h-.9zM354.0 286.8h.9v.9h-.9zM367.4 281.9h.9v.9h-.9zM353.2 284.5h.9v.9h-.9zM376.0 289.6h.9v.9h-.9zM351.0 285.4h.9v.9h-.9zM342.3 278.4h.9v.9h-.9zM355.4 289.6h.9v.9h-.9zM358.4 280.8h.9v.9h-.9zM351.3 288.1h.9v.9h-.9zM343.2 281.6h.9v.9h-.9zM350.5 284.3h.9v.9h-.9zM342.2 271.4h.9v.9h-.9zM356.0 285.2h.9v.9h-.9zM338.5 268.9h.9v.9h-.9zM344.0 266.4h.9v.9h-.9zM360.2 283.7h.9v.9h-.9zM354.6 286.9h.9v.9h-.9zM356.5 282.3h.9v.9h-.9zM335.6 264.7h.9v.9h-.9zM350.4 286.2h.9v.9h-.9zM354.6 283.9h.9v.9h-.9zM359.1 289.8h.9v.9h-.9zM360.2 287.1h.9v.9h-.9zM356.6 289.0h.9v.9h-.9zM360.9 284.2h.9v.9h-.9zM361.8 284.8h.9v.9h-.9zM356.4 287.5h.9v.9h-.9zM348.5 269.9h.9v.9h-.9zM368.0 285.1h.9v.9h-.9zM352.4 284.2h.9v.9h-.9zM346.1 274.1h.9v.9h-.9zM347.8 287.7h.9v.9h-.9zM358.2 275.9h.9v.9h-.9zM342.1 276.2h.9v.9h-.9zM340.9 275.7h.9v.9h-.9zM352.6 286.7h.9v.9h-.9zM344.7 268.3h.9v.9h-.9zM341.1 276.4h.9v.9h-.9zM348.4 269.2h.9v.9h-.9zM355.7 288.8h.9v.9h-.9zM339.7 272.3h.9v.9h-.9zM345.5 277.7h.9v.9h-.9zM363.9 281.5h.9v.9h-.9zM350.1 277.3h.9v.9h-.9zM354.8 272.2h.9v.9h-.9zM354.1 284.0h.9v.9h-.9zM351.8 286.1h.9v.9h-.9zM348.3 287.6h.9v.9h-.9zM343.5 277.1h.9v.9h-.9zM358.7 287.1h.9v.9h-.9zM350.7 280.9h.9v.9h-.9zM351.3 267.5h.9v.9h-.9zM360.5 286.9h.9v.9h-.9zM343.6 277.1h.9v.9h-.9zM367.9 287.0h.9v.9h-.9zM345.1 283.3h.9v.9h-.9zM340.5 278.2h.9v.9h-.9zM354.3 287.4h.9v.9h-.9zM359.8 289.2h.9v.9h-.9zM336.9 264.4h.9v.9h-.9zM351.2 285.2h.9v.9h-.9zM336.8 262.5h.9v.9h-.9zM351.6 285.0h.9v.9h-.9zM356.8 281.1h.9v.9h-.9zM337.0 269.9h.9v.9h-.9zM355.9 283.4h.9v.9h-.9zM344.8 277.4h.9v.9h-.9zM348.9 287.1h.9v.9h-.9zM347.3 278.7h.9v.9h-.9zM355.3 279.4h.9v.9h-.9zM353.8 285.0h.9v.9h-.9zM338.1 271.1h.9v.9h-.9zM350.7 287.1h.9v.9h-.9zM355.1 285.1h.9v.9h-.9zM351.1 278.2h.9v.9h-.9zM355.7 281.6h.9v.9h-.9zM349.8 288.6h.9v.9h-.9zM349.2 285.6h.9v.9h-.9zM369.7 288.8h.9v.9h-.9zM348.2 282.2h.9v.9h-.9zM351.7 288.7h.9v.9h-.9zM350.5 283.7h.9v.9h-.9zM351.2 285.5h.9v.9h-.9zM345.7 279.3h.9v.9h-.9zM356.1 285.9h.9v.9h-.9zM346.4 281.5h.9v.9h-.9zM348.0 286.7h.9v.9h-.9zM346.1 271.8h.9v.9h-.9zM368.1 285.8h.9v.9h-.9zM361.9 285.4h.9v.9h-.9zM344.7 278.3h.9v.9h-.9zM356.3 280.7h.9v.9h-.9zM348.9 284.9h.9v.9h-.9zM349.2 283.2h.9v.9h-.9zM346.4 286.2h.9v.9h-.9zM341.7 277.4h.9v.9h-.9zM344.2 281.7h.9v.9h-.9zM358.5 287.9h.9v.9h-.9zM368.0 289.3h.9v.9h-.9zM354.8 285.6h.9v.9h-.9zM342.1 279.2h.9v.9h-.9zM364.6 287.3h.9v.9h-.9zM370.8 282.8h.9v.9h-.9zM346.9 276.9h.9v.9h-.9zM347.7 278.7h.9v.9h-.9zM346.0 283.4h.9v.9h-.9zM364.4 288.2h.9v.9h-.9zM362.4 286.9h.9v.9h-.9zM353.5 285.2h.9v.9h-.9zM354.2 283.4h.9v.9h-.9zM351.7 282.6h.9v.9h-.9zM352.9 289.1h.9v.9h-.9zM347.7 279.8h.9v.9h-.9zM365.2 287.1h.9v.9h-.9zM352.9 283.2h.9v.9h-.9zM350.2 288.4h.9v.9h-.9zM343.2 272.2h.9v.9h-.9zM366.0 288.7h.9v.9h-.9zM341.5 278.3h.9v.9h-.9zM364.0 289.6h.9v.9h-.9zM341.1 273.1h.9v.9h-.9zM361.7 286.3h.9v.9h-.9zM356.7 287.7h.9v.9h-.9zM340.4 275.5h.9v.9h-.9zM349.3 281.8h.9v.9h-.9zM342.9 281.6h.9v.9h-.9zM337.4 261.4h.9v.9h-.9zM346.4 274.8h.9v.9h-.9zM345.7 280.2h.9v.9h-.9zM356.4 287.7h.9v.9h-.9zM338.9 272.3h.9v.9h-.9zM353.6 279.0h.9v.9h-.9zM357.7 289.2h.9v.9h-.9zM354.2 288.9h.9v.9h-.9zM344.9 282.0h.9v.9h-.9zM354.6 289.6h.9v.9h-.9zM350.4 288.1h.9v.9h-.9zM361.5 286.5h.9v.9h-.9zM355.7 286.9h.9v.9h-.9zM350.9 287.4h.9v.9h-.9zM356.0 287.2h.9v.9h-.9zM347.8 287.1h.9v.9h-.9zM348.0 273.8h.9v.9h-.9zM339.2 271.2h.9v.9h-.9zM350.2 281.5h.9v.9h-.9zM358.2 285.3h.9v.9h-.9zM355.9 283.8h.9v.9h-.9zM341.8 276.5h.9v.9h-.9zM364.5 287.6h.9v.9h-.9zM343.5 281.5h.9v.9h-.9zM361.8 288.0h.9v.9h-.9zM354.2 279.8h.9v.9h-.9zM354.8 284.6h.9v.9h-.9zM341.9 268.6h.9v.9h-.9zM350.6 289.1h.9v.9h-.9zM370.1 283.6h.9v.9h-.9zM391.5 272.9h.9v.9h-.9zM355.5 289.7h.9v.9h-.9zM348.5 285.6h.9v.9h-.9zM337.9 265.9h.9v.9h-.9zM349.9 277.5h.9v.9h-.9zM351.7 284.5h.9v.9h-.9zM343.7 280.2h.9v.9h-.9zM357.1 286.3h.9v.9h-.9zM348.9 281.3h.9v.9h-.9zM362.9 287.7h.9v.9h-.9zM358.9 286.3h.9v.9h-.9zM345.3 281.2h.9v.9h-.9zM339.5 275.4h.9v.9h-.9zM353.7 276.2h.9v.9h-.9zM354.1 287.9h.9v.9h-.9zM335.1 262.8h.9v.9h-.9zM350.2 287.2h.9v.9h-.9zM347.8 281.7h.9v.9h-.9zM360.7 289.4h.9v.9h-.9zM351.1 287.3h.9v.9h-.9zM376.2 288.1h.9v.9h-.9zM347.6 287.0h.9v.9h-.9zM347.1 280.2h.9v.9h-.9zM349.3 286.9h.9v.9h-.9zM354.7 279.5h.9v.9h-.9zM347.3 285.7h.9v.9h-.9zM354.9 284.0h.9v.9h-.9zM343.9 283.3h.9v.9h-.9zM348.4 285.8h.9v.9h-.9zM340.1 268.8h.9v.9h-.9zM360.9 283.9h.9v.9h-.9zM347.3 287.5h.9v.9h-.9zM343.1 278.8h.9v.9h-.9zM353.8 284.4h.9v.9h-.9zM342.8 281.6h.9v.9h-.9zM369.1 289.3h.9v.9h-.9zM371.0 288.4h.9v.9h-.9zM345.9 285.7h.9v.9h-.9zM339.7 273.8h.9v.9h-.9zM360.6 286.9h.9v.9h-.9zM354.0 288.8h.9v.9h-.9zM362.9 288.2h.9v.9h-.9zM353.4 285.8h.9v.9h-.9zM356.1 285.6h.9v.9h-.9zM356.3 289.5h.9v.9h-.9zM357.0 289.7h.9v.9h-.9zM352.2 282.2h.9v.9h-.9zM357.4 288.6h.9v.9h-.9zM351.0 279.3h.9v.9h-.9zM363.2 289.4h.9v.9h-.9zM346.6 286.8h.9v.9h-.9zM348.4 267.7h.9v.9h-.9zM355.8 285.5h.9v.9h-.9zM352.7 278.3h.9v.9h-.9zM366.2 286.0h.9v.9h-.9zM358.0 282.5h.9v.9h-.9zM350.2 274.2h.9v.9h-.9zM366.7 285.4h.9v.9h-.9zM349.6 288.6h.9v.9h-.9zM350.4 287.0h.9v.9h-.9zM346.3 281.8h.9v.9h-.9zM357.7 287.2h.9v.9h-.9zM347.9 279.7h.9v.9h-.9zM360.9 282.9h.9v.9h-.9zM353.7 289.8h.9v.9h-.9zM346.8 287.1h.9v.9h-.9zM355.9 281.1h.9v.9h-.9zM350.5 284.2h.9v.9h-.9zM345.9 273.2h.9v.9h-.9zM349.5 285.5h.9v.9h-.9zM353.8 278.3h.9v.9h-.9zM342.8 276.8h.9v.9h-.9zM353.5 287.9h.9v.9h-.9zM352.3 288.1h.9v.9h-.9zM344.1 282.6h.9v.9h-.9zM376.7 289.5h.9v.9h-.9zM343.2 275.0h.9v.9h-.9zM357.4 285.8h.9v.9h-.9zM344.0 281.0h.9v.9h-.9zM351.5 289.2h.9v.9h-.9zM365.0 288.6h.9v.9h-.9zM361.3 288.7h.9v.9h-.9zM349.3 278.7h.9v.9h-.9zM344.8 272.8h.9v.9h-.9zM335.1 258.4h.9v.9h-.9zM351.3 284.4h.9v.9h-.9zM357.1 287.2h.9v.9h-.9zM358.2 289.3h.9v.9h-.9zM354.7 281.8h.9v.9h-.9zM375.8 286.9h.9v.9h-.9zM347.2 283.8h.9v.9h-.9zM353.6 284.2h.9v.9h-.9zM349.7 284.2h.9v.9h-.9zM383.8 289.1h.9v.9h-.9zM355.3 288.4h.9v.9h-.9zM347.6 277.5h.9v.9h-.9zM361.3 286.8h.9v.9h-.9zM369.1 289.7h.9v.9h-.9zM347.8 284.2h.9v.9h-.9zM352.4 278.0h.9v.9h-.9zM376.9 287.7h.9v.9h-.9zM350.7 286.3h.9v.9h-.9zM341.7 276.9h.9v.9h-.9zM346.1 284.4h.9v.9h-.9zM340.4 276.5h.9v.9h-.9zM347.3 284.4h.9v.9h-.9zM363.9 268.6h.9v.9h-.9zM343.9 264.5h.9v.9h-.9zM349.9 286.5h.9v.9h-.9zM374.3 289.4h.9v.9h-.9zM374.1 288.5h.9v.9h-.9zM354.6 287.4h.9v.9h-.9zM354.7 286.5h.9v.9h-.9zM360.9 286.3h.9v.9h-.9zM342.7 279.6h.9v.9h-.9zM361.6 288.9h.9v.9h-.9zM350.9 274.9h.9v.9h-.9zM345.9 285.9h.9v.9h-.9zM335.3 258.5h.9v.9h-.9zM345.8 282.0h.9v.9h-.9zM354.0 277.3h.9v.9h-.9zM358.3 285.3h.9v.9h-.9zM353.8 285.8h.9v.9h-.9zM351.1 286.1h.9v.9h-.9zM342.2 273.8h.9v.9h-.9zM360.1 285.6h.9v.9h-.9zM349.0 287.3h.9v.9h-.9zM339.2 268.1h.9v.9h-.9zM349.7 285.7h.9v.9h-.9zM340.4 270.8h.9v.9h-.9zM343.0 277.7h.9v.9h-.9zM364.6 284.3h.9v.9h-.9zM354.1 286.9h.9v.9h-.9zM355.3 289.5h.9v.9h-.9zM342.0 276.0h.9v.9h-.9zM356.3 289.1h.9v.9h-.9zM353.1 281.9h.9v.9h-.9zM352.0 286.5h.9v.9h-.9zM355.4 286.1h.9v.9h-.9zM339.2 272.5h.9v.9h-.9zM350.7 288.7h.9v.9h-.9zM355.2 288.9h.9v.9h-.9zM362.6 288.4h.9v.9h-.9zM334.9 263.1h.9v.9h-.9zM358.1 281.0h.9v.9h-.9zM351.6 288.3h.9v.9h-.9zM361.1 285.2h.9v.9h-.9zM344.5 282.6h.9v.9h-.9zM340.8 274.9h.9v.9h-.9zM336.2 262.6h.9v.9h-.9zM357.5 284.9h.9v.9h-.9zM342.3 276.9h.9v.9h-.9zM338.6 273.9h.9v.9h-.9zM350.1 289.0h.9v.9h-.9zM352.1 289.2h.9v.9h-.9zM357.6 280.4h.9v.9h-.9zM346.9 283.5h.9v.9h-.9zM351.5 280.2h.9v.9h-.9zM353.1 288.5h.9v.9h-.9zM365.6 289.8h.9v.9h-.9zM342.2 274.4h.9v.9h-.9zM334.9 257.7h.9v.9h-.9zM348.9 277.8h.9v.9h-.9zM372.3 288.7h.9v.9h-.9zM366.2 287.6h.9v.9h-.9zM362.9 288.6h.9v.9h-.9zM357.3 287.4h.9v.9h-.9zM357.7 284.9h.9v.9h-.9zM351.9 284.4h.9v.9h-.9zM348.3 279.2h.9v.9h-.9zM344.9 282.7h.9v.9h-.9zM346.6 286.0h.9v.9h-.9zM348.9 285.1h.9v.9h-.9zM352.6 285.9h.9v.9h-.9zM366.2 288.5h.9v.9h-.9zM359.2 288.1h.9v.9h-.9zM352.6 289.7h.9v.9h-.9zM341.9 276.5h.9v.9h-.9zM348.3 286.6h.9v.9h-.9zM360.9 284.7h.9v.9h-.9zM346.4 284.4h.9v.9h-.9zM341.6 268.3h.9v.9h-.9zM337.8 262.5h.9v.9h-.9zM350.3 287.9h.9v.9h-.9zM352.9 288.7h.9v.9h-.9zM351.0 280.1h.9v.9h-.9zM340.6 270.3h.9v.9h-.9zM355.9 286.8h.9v.9h-.9zM338.3 265.4h.9v.9h-.9zM350.1 278.6h.9v.9h-.9zM350.6 287.6h.9v.9h-.9zM344.6 283.1h.9v.9h-.9zM343.6 282.7h.9v.9h-.9zM347.8 286.3h.9v.9h-.9zM345.9 285.8h.9v.9h-.9zM349.9 286.8h.9v.9h-.9zM353.4 289.5h.9v.9h-.9zM345.9 286.0h.9v.9h-.9zM348.1 283.4h.9v.9h-.9zM343.9 282.9h.9v.9h-.9zM346.0 286.2h.9v.9h-.9zM348.4 274.4h.9v.9h-.9zM345.4 278.8h.9v.9h-.9zM352.5 282.4h.9v.9h-.9zM340.8 275.2h.9v.9h-.9zM344.9 281.6h.9v.9h-.9zM344.6 269.4h.9v.9h-.9zM337.2 264.5h.9v.9h-.9zM353.2 282.7h.9v.9h-.9zM352.5 278.5h.9v.9h-.9zM343.0 271.5h.9v.9h-.9zM337.9 271.8h.9v.9h-.9zM361.2 287.1h.9v.9h-.9zM358.7 289.3h.9v.9h-.9zM354.6 283.4h.9v.9h-.9zM352.0 288.9h.9v.9h-.9zM340.9 266.5h.9v.9h-.9zM348.7 280.3h.9v.9h-.9zM356.0 286.3h.9v.9h-.9zM348.5 282.1h.9v.9h-.9zM346.6 266.9h.9v.9h-.9zM358.1 287.4h.9v.9h-.9zM348.9 281.0h.9v.9h-.9zM347.3 286.6h.9v.9h-.9zM350.6 287.8h.9v.9h-.9zM367.4 287.4h.9v.9h-.9zM337.3 270.4h.9v.9h-.9zM335.9 259.5h.9v.9h-.9zM344.6 284.3h.9v.9h-.9zM364.8 287.1h.9v.9h-.9zM347.8 280.5h.9v.9h-.9zM340.5 259.7h.9v.9h-.9zM372.7 287.6h.9v.9h-.9zM343.5 274.1h.9v.9h-.9zM342.0 275.1h.9v.9h-.9zM340.0 274.4h.9v.9h-.9zM367.3 289.4h.9v.9h-.9zM341.8 270.7h.9v.9h-.9zM351.4 284.7h.9v.9h-.9zM359.2 285.9h.9v.9h-.9zM364.3 289.2h.9v.9h-.9zM353.9 284.5h.9v.9h-.9zM349.9 284.7h.9v.9h-.9zM365.3 289.8h.9v.9h-.9zM348.3 287.4h.9v.9h-.9zM347.7 279.7h.9v.9h-.9zM360.1 280.2h.9v.9h-.9zM343.0 278.6h.9v.9h-.9zM347.9 286.1h.9v.9h-.9zM354.1 289.3h.9v.9h-.9zM341.5 269.2h.9v.9h-.9zM341.5 262.4h.9v.9h-.9zM358.3 284.6h.9v.9h-.9zM339.1 272.8h.9v.9h-.9zM365.1 285.9h.9v.9h-.9zM343.3 282.1h.9v.9h-.9zM349.7 277.2h.9v.9h-.9zM349.4 285.5h.9v.9h-.9zM356.2 286.1h.9v.9h-.9zM345.2 279.8h.9v.9h-.9zM355.1 285.5h.9v.9h-.9zM347.5 276.0h.9v.9h-.9zM334.9 257.5h.9v.9h-.9zM364.7 289.7h.9v.9h-.9zM339.4 270.5h.9v.9h-.9zM358.7 287.2h.9v.9h-.9zM355.4 289.2h.9v.9h-.9zM345.9 277.3h.9v.9h-.9zM344.2 282.1h.9v.9h-.9zM351.3 278.1h.9v.9h-.9zM346.1 277.1h.9v.9h-.9zM353.0 281.9h.9v.9h-.9zM338.1 260.3h.9v.9h-.9zM357.2 285.7h.9v.9h-.9zM348.8 287.2h.9v.9h-.9zM354.9 286.5h.9v.9h-.9zM352.2 269.7h.9v.9h-.9zM348.3 287.3h.9v.9h-.9zM381.4 289.0h.9v.9h-.9zM351.1 288.6h.9v.9h-.9zM366.9 283.4h.9v.9h-.9zM339.2 275.2h.9v.9h-.9zM352.6 284.8h.9v.9h-.9zM337.9 267.7h.9v.9h-.9zM352.2 288.7h.9v.9h-.9zM353.4 277.2h.9v.9h-.9zM353.1 285.2h.9v.9h-.9zM338.3 271.1h.9v.9h-.9zM375.4 277.2h.9v.9h-.9zM344.6 277.9h.9v.9h-.9zM352.9 282.2h.9v.9h-.9zM344.5 281.5h.9v.9h-.9zM347.3 286.8h.9v.9h-.9zM359.0 289.6h.9v.9h-.9zM361.9 285.2h.9v.9h-.9zM354.0 274.8h.9v.9h-.9zM364.1 288.9h.9v.9h-.9zM353.4 289.4h.9v.9h-.9zM355.1 287.5h.9v.9h-.9zM365.7 287.4h.9v.9h-.9zM344.9 260.7h.9v.9h-.9zM363.1 289.4h.9v.9h-.9zM359.3 269.3h.9v.9h-.9zM350.5 286.1h.9v.9h-.9zM361.3 287.9h.9v.9h-.9zM355.7 288.9h.9v.9h-.9zM369.0 289.3h.9v.9h-.9zM344.5 275.1h.9v.9h-.9zM345.5 285.5h.9v.9h-.9zM344.3 283.2h.9v.9h-.9zM336.6 264.6h.9v.9h-.9zM350.9 284.2h.9v.9h-.9zM356.0 282.9h.9v.9h-.9zM359.6 289.4h.9v.9h-.9zM343.8 266.5h.9v.9h-.9zM366.3 288.2h.9v.9h-.9zM335.5 265.5h.9v.9h-.9zM350.8 289.1h.9v.9h-.9zM347.2 281.9h.9v.9h-.9zM349.6 288.5h.9v.9h-.9zM353.5 282.1h.9v.9h-.9zM364.0 288.5h.9v.9h-.9zM351.3 288.5h.9v.9h-.9zM341.6 280.0h.9v.9h-.9zM360.2 284.1h.9v.9h-.9zM347.8 275.8h.9v.9h-.9zM362.4 286.2h.9v.9h-.9zM352.8 286.9h.9v.9h-.9zM351.0 272.6h.9v.9h-.9zM338.4 267.9h.9v.9h-.9zM355.6 281.6h.9v.9h-.9zM349.7 283.8h.9v.9h-.9zM348.8 282.6h.9v.9h-.9zM342.8 275.3h.9v.9h-.9zM354.9 273.4h.9v.9h-.9zM345.8 282.6h.9v.9h-.9zM352.4 288.5h.9v.9h-.9zM350.9 289.1h.9v.9h-.9zM355.7 288.5h.9v.9h-.9zM355.1 282.9h.9v.9h-.9zM354.2 287.0h.9v.9h-.9zM344.6 281.3h.9v.9h-.9zM358.4 285.0h.9v.9h-.9zM355.7 287.2h.9v.9h-.9zM351.4 285.3h.9v.9h-.9zM369.4 289.7h.9v.9h-.9zM338.6 272.3h.9v.9h-.9zM348.7 287.4h.9v.9h-.9zM336.7 269.1h.9v.9h-.9zM355.1 286.9h.9v.9h-.9zM357.9 287.3h.9v.9h-.9zM357.3 286.2h.9v.9h-.9zM343.5 282.4h.9v.9h-.9zM359.3 288.8h.9v.9h-.9zM362.1 287.4h.9v.9h-.9zM349.3 277.8h.9v.9h-.9zM363.3 285.9h.9v.9h-.9zM350.0 281.9h.9v.9h-.9zM349.7 281.5h.9v.9h-.9zM347.3 282.6h.9v.9h-.9zM352.0 281.0h.9v.9h-.9zM364.5 289.6h.9v.9h-.9zM352.1 284.9h.9v.9h-.9zM352.5 281.9h.9v.9h-.9zM352.5 280.1h.9v.9h-.9zM353.9 288.7h.9v.9h-.9zM343.4 271.2h.9v.9h-.9zM346.4 283.6h.9v.9h-.9zM349.2 288.1h.9v.9h-.9zM351.0 287.0h.9v.9h-.9zM359.3 288.0h.9v.9h-.9zM347.6 281.0h.9v.9h-.9zM355.3 281.4h.9v.9h-.9zM346.1 284.5h.9v.9h-.9zM349.1 287.7h.9v.9h-.9zM355.0 281.6h.9v.9h-.9zM342.1 277.3h.9v.9h-.9zM349.1 278.5h.9v.9h-.9zM377.2 288.1h.9v.9h-.9zM350.1 281.5h.9v.9h-.9zM364.2 289.0h.9v.9h-.9zM343.8 281.6h.9v.9h-.9zM345.4 284.9h.9v.9h-.9zM356.7 283.0h.9v.9h-.9zM355.5 282.8h.9v.9h-.9zM353.1 285.0h.9v.9h-.9zM350.2 284.2h.9v.9h-.9zM359.5 288.3h.9v.9h-.9zM349.7 288.1h.9v.9h-.9zM356.2 289.0h.9v.9h-.9zM376.3 289.7h.9v.9h-.9zM345.1 281.1h.9v.9h-.9zM355.5 288.3h.9v.9h-.9zM358.4 288.8h.9v.9h-.9zM361.1 284.4h.9v.9h-.9zM352.2 286.5h.9v.9h-.9zM344.3 282.0h.9v.9h-.9zM364.4 289.4h.9v.9h-.9zM345.5 284.1h.9v.9h-.9zM350.5 284.9h.9v.9h-.9zM344.3 282.0h.9v.9h-.9zM351.4 276.3h.9v.9h-.9zM360.5 287.5h.9v.9h-.9zM349.0 287.3h.9v.9h-.9zM347.9 284.9h.9v.9h-.9zM354.3 287.2h.9v.9h-.9zM355.5 284.9h.9v.9h-.9zM350.8 283.0h.9v.9h-.9zM335.0 264.3h.9v.9h-.9zM370.1 289.7h.9v.9h-.9zM353.2 287.1h.9v.9h-.9zM340.5 274.0h.9v.9h-.9zM361.0 289.7h.9v.9h-.9zM335.2 260.3h.9v.9h-.9zM353.1 273.4h.9v.9h-.9zM359.8 287.5h.9v.9h-.9zM361.8 284.2h.9v.9h-.9zM363.3 287.9h.9v.9h-.9zM342.3 275.8h.9v.9h-.9zM362.1 288.0h.9v.9h-.9zM343.4 279.9h.9v.9h-.9zM353.8 278.0h.9v.9h-.9zM357.5 286.3h.9v.9h-.9zM359.2 288.1h.9v.9h-.9zM353.9 288.9h.9v.9h-.9zM348.8 287.9h.9v.9h-.9zM344.8 277.4h.9v.9h-.9zM344.1 281.5h.9v.9h-.9zM349.0 283.2h.9v.9h-.9zM366.5 287.4h.9v.9h-.9zM358.4 288.9h.9v.9h-.9zM351.5 282.8h.9v.9h-.9zM346.3 265.3h.9v.9h-.9zM352.1 284.7h.9v.9h-.9zM348.2 284.0h.9v.9h-.9zM338.4 268.1h.9v.9h-.9zM355.9 286.5h.9v.9h-.9zM347.0 277.2h.9v.9h-.9zM353.5 283.7h.9v.9h-.9zM358.4 285.4h.9v.9h-.9zM355.9 282.0h.9v.9h-.9zM345.3 276.7h.9v.9h-.9zM357.7 288.9h.9v.9h-.9zM335.2 264.6h.9v.9h-.9zM347.6 278.4h.9v.9h-.9zM360.0 287.7h.9v.9h-.9zM375.2 289.6h.9v.9h-.9zM367.6 289.7h.9v.9h-.9zM344.6 280.5h.9v.9h-.9zM344.1 276.9h.9v.9h-.9zM366.4 287.5h.9v.9h-.9zM344.6 283.4h.9v.9h-.9zM355.2 289.2h.9v.9h-.9zM355.8 284.5h.9v.9h-.9zM349.2 282.7h.9v.9h-.9zM351.6 283.3h.9v.9h-.9zM340.7 274.8h.9v.9h-.9zM363.2 287.4h.9v.9h-.9zM341.9 280.6h.9v.9h-.9zM355.7 281.8h.9v.9h-.9zM352.7 287.5h.9v.9h-.9zM361.4 286.5h.9v.9h-.9zM357.5 284.7h.9v.9h-.9zM345.4 277.4h.9v.9h-.9zM350.5 278.8h.9v.9h-.9zM343.7 280.8h.9v.9h-.9zM348.1 274.7h.9v.9h-.9zM349.1 285.9h.9v.9h-.9zM349.4 284.3h.9v.9h-.9zM334.1 259.1h.9v.9h-.9zM350.5 287.0h.9v.9h-.9zM337.1 266.0h.9v.9h-.9zM341.6 275.0h.9v.9h-.9zM355.5 289.0h.9v.9h-.9zM347.4 284.0h.9v.9h-.9zM356.9 288.5h.9v.9h-.9zM363.1 289.3h.9v.9h-.9zM351.5 285.2h.9v.9h-.9zM357.6 278.9h.9v.9h-.9zM355.4 286.9h.9v.9h-.9zM373.5 282.0h.9v.9h-.9zM348.6 284.4h.9v.9h-.9zM352.2 277.5h.9v.9h-.9zM362.0 287.3h.9v.9h-.9zM352.3 284.4h.9v.9h-.9zM358.3 287.3h.9v.9h-.9zM369.1 289.6h.9v.9h-.9zM338.8 270.0h.9v.9h-.9zM346.4 280.6h.9v.9h-.9zM355.5 273.9h.9v.9h-.9zM336.4 263.9h.9v.9h-.9zM354.7 288.4h.9v.9h-.9zM350.4 285.7h.9v.9h-.9zM362.2 285.4h.9v.9h-.9zM348.3 286.1h.9v.9h-.9zM345.6 271.8h.9v.9h-.9zM354.8 274.1h.9v.9h-.9zM347.6 282.1h.9v.9h-.9zM347.0 286.4h.9v.9h-.9zM350.9 289.1h.9v.9h-.9zM351.9 284.1h.9v.9h-.9zM352.8 280.4h.9v.9h-.9zM362.8 281.6h.9v.9h-.9zM360.5 287.1h.9v.9h-.9zM337.1 262.9h.9v.9h-.9zM347.3 280.3h.9v.9h-.9zM358.3 289.1h.9v.9h-.9zM354.3 279.8h.9v.9h-.9zM356.1 289.0h.9v.9h-.9zM350.2 288.1h.9v.9h-.9zM362.3 288.8h.9v.9h-.9zM362.3 288.3h.9v.9h-.9zM358.0 289.1h.9v.9h-.9zM347.5 276.7h.9v.9h-.9zM345.3 283.5h.9v.9h-.9zM347.1 285.6h.9v.9h-.9zM361.7 288.8h.9v.9h-.9zM355.6 289.1h.9v.9h-.9zM343.9 266.0h.9v.9h-.9zM342.6 282.0h.9v.9h-.9zM355.5 288.2h.9v.9h-.9zM360.1 289.4h.9v.9h-.9zM350.2 288.8h.9v.9h-.9zM349.7 276.8h.9v.9h-.9zM347.0 286.9h.9v.9h-.9zM334.4 262.0h.9v.9h-.9zM354.8 283.1h.9v.9h-.9zM354.3 288.9h.9v.9h-.9zM354.2 281.7h.9v.9h-.9zM349.3 280.7h.9v.9h-.9zM347.0 284.1h.9v.9h-.9zM345.8 279.1h.9v.9h-.9zM358.0 284.3h.9v.9h-.9zM340.4 277.2h.9v.9h-.9zM352.1 285.6h.9v.9h-.9zM357.6 287.1h.9v.9h-.9zM347.6 278.6h.9v.9h-.9zM359.8 289.1h.9v.9h-.9zM341.9 267.2h.9v.9h-.9zM352.9 285.3h.9v.9h-.9zM358.0 287.9h.9v.9h-.9zM348.4 274.7h.9v.9h-.9zM354.6 288.1h.9v.9h-.9zM346.4 284.5h.9v.9h-.9zM358.0 287.2h.9v.9h-.9zM346.9 280.4h.9v.9h-.9zM341.0 264.0h.9v.9h-.9zM346.8 280.9h.9v.9h-.9zM354.5 278.1h.9v.9h-.9zM348.1 278.0h.9v.9h-.9zM349.4 288.7h.9v.9h-.9zM348.3 281.5h.9v.9h-.9zM361.7 289.1h.9v.9h-.9zM364.3 289.5h.9v.9h-.9zM357.7 273.5h.9v.9h-.9zM342.9 274.0h.9v.9h-.9zM347.7 287.8h.9v.9h-.9zM347.7 286.5h.9v.9h-.9zM360.5 289.5h.9v.9h-.9zM367.4 287.1h.9v.9h-.9zM347.9 259.8h.9v.9h-.9zM348.6 280.9h.9v.9h-.9zM364.4 277.7h.9v.9h-.9zM345.1 284.8h.9v.9h-.9zM357.2 276.6h.9v.9h-.9zM346.4 270.5h.9v.9h-.9zM359.7 286.2h.9v.9h-.9zM335.7 262.4h.9v.9h-.9zM341.2 278.8h.9v.9h-.9zM350.9 284.9h.9v.9h-.9zM357.9 287.1h.9v.9h-.9zM362.7 286.5h.9v.9h-.9zM343.9 277.8h.9v.9h-.9zM359.6 284.5h.9v.9h-.9zM339.4 275.0h.9v.9h-.9zM360.5 289.4h.9v.9h-.9zM346.1 281.9h.9v.9h-.9zM344.7 283.5h.9v.9h-.9zM354.3 287.6h.9v.9h-.9zM352.1 282.3h.9v.9h-.9zM353.1 287.0h.9v.9h-.9zM352.9 287.9h.9v.9h-.9zM344.0 278.4h.9v.9h-.9zM349.7 276.4h.9v.9h-.9zM350.8 287.2h.9v.9h-.9zM353.7 289.0h.9v.9h-.9zM361.8 285.6h.9v.9h-.9zM354.9 286.2h.9v.9h-.9zM367.6 289.3h.9v.9h-.9zM366.6 289.7h.9v.9h-.9zM347.2 285.7h.9v.9h-.9zM361.7 289.1h.9v.9h-.9zM362.8 280.9h.9v.9h-.9zM342.4 280.1h.9v.9h-.9zM356.0 289.0h.9v.9h-.9zM359.6 283.3h.9v.9h-.9zM346.7 283.8h.9v.9h-.9zM363.2 288.2h.9v.9h-.9zM358.0 289.1h.9v.9h-.9zM354.4 289.4h.9v.9h-.9zM368.7 288.7h.9v.9h-.9zM355.9 282.1h.9v.9h-.9zM348.5 285.5h.9v.9h-.9zM350.1 285.8h.9v.9h-.9zM346.9 275.2h.9v.9h-.9zM339.1 266.9h.9v.9h-.9zM349.6 287.9h.9v.9h-.9zM350.6 289.2h.9v.9h-.9zM350.5 283.7h.9v.9h-.9zM334.0 247.7h.9v.9h-.9zM335.2 252.3h.9v.9h-.9zM336.6 245.5h.9v.9h-.9zM338.4 241.5h.9v.9h-.9zM336.3 255.1h.9v.9h-.9zM339.3 256.3h.9v.9h-.9zM341.1 254.6h.9v.9h-.9zM354.4 266.5h.9v.9h-.9zM374.9 267.1h.9v.9h-.9zM377.6 289.2h.9v.9h-.9zM398.1 289.2h.9v.9h-.9zM375.8 279.6h.9v.9h-.9zM370.5 277.3h.9v.9h-.9zM365.1 271.6h.9v.9h-.9zM372.2 283.0h.9v.9h-.9zM368.7 284.1h.9v.9h-.9zM361.6 270.5h.9v.9h-.9zM366.0 276.2h.9v.9h-.9zM374.0 286.4h.9v.9h-.9z" fill="#3c4a5e"/>
<rect x="323.65" y="216.75" width="1.1" height="1.1" fill="#3a4458"/>
<rect x="328.55" y="227.05" width="1.1" height="1.1" fill="#3a4458"/>
<rect x="329.15" y="233.15" width="1.1" height="1.1" fill="#3a4458"/>
<rect x="325.85" y="237.75" width="1.1" height="1.1" fill="#3a4458"/>
<rect x="326.85" y="238.85" width="1.1" height="1.1" fill="#3a4458"/>
<rect x="335.85" y="240.75" width="1.1" height="1.1" fill="#3a4458"/>
<text x="326.11" y="218.3" font-size="6.6" textLength="28.86" lengthAdjust="spacingAndGlyphs" fill="#c8335a">PCGF1 (1)</text>
<text x="331.11" y="235.8" font-size="6.6" textLength="26.06" lengthAdjust="spacingAndGlyphs" fill="#c8335a">BCOR (3)</text>
<line x1="320.4" y1="213.6" x2="320.4" y2="293.6" stroke="#231f20" stroke-width="1.25"/>
<line x1="319.9" y1="293.1" x2="401.5" y2="293.1" stroke="#231f20" stroke-width="1.25"/>
<line x1="317.4" y1="221.58" x2="320.4" y2="221.58" stroke="#231f20" stroke-width="1"/>
<text x="312.77" y="223.85" font-size="6.3" textLength="3.5" lengthAdjust="spacingAndGlyphs">6</text>
<line x1="317.4" y1="244.32" x2="320.4" y2="244.32" stroke="#231f20" stroke-width="1"/>
<text x="312.68" y="246.59" font-size="6.3" textLength="3.5" lengthAdjust="spacingAndGlyphs">4</text>
<line x1="317.4" y1="267.06" x2="320.4" y2="267.06" stroke="#231f20" stroke-width="1"/>
<text x="312.81" y="269.33" font-size="6.3" textLength="3.5" lengthAdjust="spacingAndGlyphs">2</text>
<line x1="317.4" y1="289.8" x2="320.4" y2="289.8" stroke="#231f20" stroke-width="1"/>
<text x="312.74" y="292.07" font-size="6.3" textLength="3.5" lengthAdjust="spacingAndGlyphs">0</text>
<line x1="331.3" y1="293.1" x2="331.3" y2="295.9" stroke="#231f20" stroke-width="1"/>
<text x="326.91" y="304.47" font-size="6.3" textLength="7.18" lengthAdjust="spacingAndGlyphs">−1</text>
<line x1="349.1" y1="293.1" x2="349.1" y2="295.9" stroke="#231f20" stroke-width="1"/>
<text x="347.35" y="304.47" font-size="6.3" textLength="3.5" lengthAdjust="spacingAndGlyphs">0</text>
<line x1="366.9" y1="293.1" x2="366.9" y2="295.9" stroke="#231f20" stroke-width="1"/>
<text x="365.06" y="304.47" font-size="6.3" textLength="3.5" lengthAdjust="spacingAndGlyphs">1</text>
<line x1="384.7" y1="293.1" x2="384.7" y2="295.9" stroke="#231f20" stroke-width="1"/>
<text x="382.95" y="304.47" font-size="6.3" textLength="3.5" lengthAdjust="spacingAndGlyphs">2</text>
<text x="350.77" y="316.4" font-size="8.6" textLength="20.88" lengthAdjust="spacingAndGlyphs" class="hv">log<tspan font-size="5.8" dy="1.3">2</tspan><tspan dy="-1.3">FC</tspan></text>
<text x="306" y="287.62" font-size="8.4" textLength="69.22" lengthAdjust="spacingAndGlyphs" transform="rotate(-90 306 287.62)" class="hv">Neg. RRA score (−log<tspan font-size="5" dy="1.2">10</tspan><tspan dy="-1.2">)</tspan></text>
<text x="416.4" y="197" font-size="10.74" textLength="9.56" lengthAdjust="spacingAndGlyphs" fill="#111" font-weight="bold">G</text>
<line x1="451.4" y1="252.9" x2="503" y2="252.9" stroke="#f0b8b8" stroke-width="0.7" stroke-dasharray="1.2 1.4"/>
<line x1="461.6" y1="223.1" x2="461.6" y2="281.8" stroke="#5e6273" stroke-width="0.9"/>
<rect x="456.2" y="245.5" width="10.9" height="14.7" fill="#9c9eab"/>
<line x1="456.2" y1="252.9" x2="467.1" y2="252.9" stroke="#4d5268" stroke-width="1.3"/>
<line x1="477.8" y1="251.8" x2="477.8" y2="273.4" stroke="#a31d36" stroke-width="0.9"/>
<rect x="472.3" y="259.2" width="11.1" height="10.4" fill="#ec8a80"/>
<line x1="472.3" y1="265" x2="483.4" y2="265" stroke="#a8142e" stroke-width="1.4"/>
<line x1="494.1" y1="236.3" x2="494.1" y2="282.4" stroke="#a31d36" stroke-width="0.9"/>
<rect x="488.6" y="253.9" width="11.1" height="13.2" fill="#ec8a80"/>
<line x1="488.6" y1="262.5" x2="499.7" y2="262.5" stroke="#a8142e" stroke-width="1.4"/>
<line x1="451.4" y1="212.5" x2="451.4" y2="293.8" stroke="#231f20" stroke-width="1.25"/>
<line x1="450.9" y1="293.3" x2="503" y2="293.3" stroke="#231f20" stroke-width="1.25"/>
<line x1="448.4" y1="216.9" x2="451.4" y2="216.9" stroke="#231f20" stroke-width="1"/>
<text x="442.68" y="219.17" font-size="6.3" textLength="3.5" lengthAdjust="spacingAndGlyphs">4</text>
<line x1="448.4" y1="234.9" x2="451.4" y2="234.9" stroke="#231f20" stroke-width="1"/>
<text x="442.81" y="237.17" font-size="6.3" textLength="3.5" lengthAdjust="spacingAndGlyphs">2</text>
<line x1="448.4" y1="252.9" x2="451.4" y2="252.9" stroke="#231f20" stroke-width="1"/>
<text x="442.74" y="255.17" font-size="6.3" textLength="3.5" lengthAdjust="spacingAndGlyphs">0</text>
<line x1="448.4" y1="270.9" x2="451.4" y2="270.9" stroke="#231f20" stroke-width="1"/>
<text x="439.13" y="273.17" font-size="6.3" textLength="7.18" lengthAdjust="spacingAndGlyphs">−2</text>
<line x1="448.4" y1="288.9" x2="451.4" y2="288.9" stroke="#231f20" stroke-width="1"/>
<text x="439" y="291.17" font-size="6.3" textLength="7.18" lengthAdjust="spacingAndGlyphs">−4</text>
<line x1="461.6" y1="293.3" x2="461.6" y2="296.1" stroke="#231f20" stroke-width="1"/>
<line x1="477.8" y1="293.3" x2="477.8" y2="296.1" stroke="#231f20" stroke-width="1"/>
<line x1="494.1" y1="293.3" x2="494.1" y2="296.1" stroke="#231f20" stroke-width="1"/>
<text x="451.01" y="312.01" font-size="6.4" textLength="16.84" lengthAdjust="spacingAndGlyphs" transform="rotate(-45 451.01 312.01)">NEG</text>
<text x="464.67" y="317.26" font-size="6.4" textLength="22.66" lengthAdjust="spacingAndGlyphs" transform="rotate(-45 464.67 317.26)">PCGF1</text>
<text x="481.45" y="315.17" font-size="6.4" textLength="20.42" lengthAdjust="spacingAndGlyphs" transform="rotate(-45 481.45 315.17)">BCOR</text>
<text x="432.4" y="263.71" font-size="8.4" textLength="22.14" lengthAdjust="spacingAndGlyphs" transform="rotate(-90 432.4 263.71)" class="hv">Log<tspan font-size="5.8" dy="1.3">2</tspan><tspan dy="-1.3">FC</tspan></text>
<path d="M461.40 211.80V209.80H495.70V211.80" fill="none" stroke="#231f20" stroke-width="0.9"/>
<path d="M461.40 221.80V219.80H477.80V221.80" fill="none" stroke="#231f20" stroke-width="0.9"/>
<text x="465.88" y="208" font-size="6.3" textLength="25.3" lengthAdjust="spacingAndGlyphs">7.27E-04</text>
<text x="457.12" y="218.3" font-size="6.3" textLength="25.86" lengthAdjust="spacingAndGlyphs">1.65E-06</text>
<text x="6.41" y="345" font-size="10.32" textLength="9.69" lengthAdjust="spacingAndGlyphs" fill="#111" font-weight="bold">H</text>
<text x="60.8" y="345.8" font-size="8.6" textLength="40.02" lengthAdjust="spacingAndGlyphs">OCI-AML2</text>
<text x="100.99" y="342.2" font-size="6" textLength="14.51" lengthAdjust="spacingAndGlyphs">Cas9</text>
<rect x="22.5" y="354.6" width="4.9" height="4" fill="#eeeeee" stroke="#c9c9c9" stroke-width="0.7"/>
<line x1="24.95" y1="354" x2="24.95" y2="359.2" stroke="#c9c9c9" stroke-width="0.7"/>
<text x="31.04" y="358.9" font-size="6.4" textLength="16.23" lengthAdjust="spacingAndGlyphs">sg<tspan font-style="italic">Luc</tspan></text>
<rect x="56.5" y="354.6" width="5.2" height="4" fill="#fde2c0" stroke="#f5b56a" stroke-width="0.7"/>
<line x1="59.1" y1="354" x2="59.1" y2="359.2" stroke="#f5b56a" stroke-width="0.7"/>
<text x="64.83" y="358.9" font-size="6.4" textLength="35.77" lengthAdjust="spacingAndGlyphs">sg<tspan font-style="italic">PCGF1</tspan> #1</text>
<rect x="109.8" y="354.6" width="4.5" height="4" fill="#d8f0d8" stroke="#8fd08f" stroke-width="0.7"/>
<line x1="112.05" y1="354" x2="112.05" y2="359.2" stroke="#8fd08f" stroke-width="0.7"/>
<text x="117.23" y="358.9" font-size="6.4" textLength="36.49" lengthAdjust="spacingAndGlyphs">sg<tspan font-style="italic">PCGF1</tspan> #2</text>
<path d="M41.3 389.2 L42.81 389.35 L44.97 389.56 L47.49 389.81 L50.1 390.08 L52.53 390.35 L54.5 390.6 L55.98 390.82 L57.19 391.03 L58.21 391.24 L59.14 391.47 L60.08 391.71 L61.1 392 L62.2 392.33 L63.3 392.69 L64.4 393.08 L65.5 393.49 L66.6 393.89 L67.7 394.3 L68.8 394.68 L69.9 395.03 L71 395.39 L72.1 395.79 L73.2 396.25 L74.3 396.8 L75.41 397.43 L76.53 398.11 L77.65 398.85 L78.76 399.67 L79.85 400.58 L80.9 401.6 L81.91 402.7 L82.89 403.87 L83.84 405.13 L84.79 406.5 L85.74 408.02 L86.7 409.7 L87.75 411.76 L88.88 414.21 L90.01 416.81 L91.07 419.29 L91.96 421.4 L92.6 422.9" fill="none" stroke="#e0e0e4" stroke-width="1"/>
<rect x="40" y="385.7" width="2.6" height="2.6" fill="#eeeef2" stroke="#d8d8dc" stroke-width="0.6"/>
<rect x="40" y="389.2" width="2.6" height="2.6" fill="#eeeef2" stroke="#d8d8dc" stroke-width="0.6"/>
<rect x="53.2" y="388.6" width="2.6" height="2.6" fill="#eeeef2" stroke="#d8d8dc" stroke-width="0.6"/>
<rect x="53.2" y="393.2" width="2.6" height="2.6" fill="#eeeef2" stroke="#d8d8dc" stroke-width="0.6"/>
<rect x="59.8" y="393" width="2.6" height="2.6" fill="#eeeef2" stroke="#d8d8dc" stroke-width="0.6"/>
<rect x="66.4" y="394.5" width="2.6" height="2.6" fill="#eeeef2" stroke="#d8d8dc" stroke-width="0.6"/>
<rect x="73" y="393.7" width="2.6" height="2.6" fill="#eeeef2" stroke="#d8d8dc" stroke-width="0.6"/>
<rect x="73" y="396.2" width="2.6" height="2.6" fill="#eeeef2" stroke="#d8d8dc" stroke-width="0.6"/>
<rect x="78.8" y="404" width="2.6" height="2.6" fill="#eeeef2" stroke="#d8d8dc" stroke-width="0.6"/>
<rect x="84.7" y="409.1" width="2.6" height="2.6" fill="#eeeef2" stroke="#d8d8dc" stroke-width="0.6"/>
<rect x="91.3" y="421.6" width="2.6" height="2.6" fill="#eeeef2" stroke="#d8d8dc" stroke-width="0.6"/>
<circle cx="54.5" cy="407.5" r="1.35" fill="none" stroke="#f29a3a" stroke-width="0.8"/>
<circle cx="54.5" cy="409.5" r="1.35" fill="none" stroke="#f29a3a" stroke-width="0.8"/>
<circle cx="61.1" cy="400" r="1.35" fill="none" stroke="#f29a3a" stroke-width="0.8"/>
<circle cx="61.1" cy="410.4" r="1.35" fill="none" stroke="#f29a3a" stroke-width="0.8"/>
<circle cx="67.7" cy="409.5" r="1.35" fill="none" stroke="#f29a3a" stroke-width="0.8"/>
<circle cx="67.7" cy="412.6" r="1.35" fill="none" stroke="#f29a3a" stroke-width="0.8"/>
<circle cx="73.5" cy="411.1" r="1.35" fill="none" stroke="#f29a3a" stroke-width="0.8"/>
<circle cx="80.1" cy="423.6" r="1.35" fill="none" stroke="#f29a3a" stroke-width="0.8"/>
<circle cx="86.7" cy="425.5" r="1.35" fill="none" stroke="#f29a3a" stroke-width="0.8"/>
<circle cx="92.6" cy="434.6" r="1.35" fill="none" stroke="#f29a3a" stroke-width="0.8"/>
<circle cx="54.5" cy="403" r="1.35" fill="none" stroke="#4bb04f" stroke-width="0.8"/>
<circle cx="54.5" cy="405.5" r="1.35" fill="none" stroke="#4bb04f" stroke-width="0.8"/>
<circle cx="61.1" cy="404.6" r="1.35" fill="none" stroke="#4bb04f" stroke-width="0.8"/>
<circle cx="67.7" cy="404.5" r="1.35" fill="none" stroke="#4bb04f" stroke-width="0.8"/>
<circle cx="67.7" cy="399.5" r="1.35" fill="none" stroke="#4bb04f" stroke-width="0.8"/>
<circle cx="80.1" cy="419.2" r="1.35" fill="none" stroke="#4bb04f" stroke-width="0.8"/>
<circle cx="86.7" cy="427" r="1.35" fill="none" stroke="#4bb04f" stroke-width="0.8"/>
<circle cx="73.8" cy="405.3" r="1.7" fill="#4bb04f"/>
<circle cx="61.1" cy="404.6" r="1.4" fill="#4bb04f"/>
<circle cx="73.5" cy="412" r="1.5" fill="#f29a3a"/>
<path d="M67.7 406.5 L68.32 406.97 L69.17 407.59 L70.19 408.34 L71.29 409.19 L72.42 410.12 L73.5 411.1 L74.55 412.17 L75.64 413.36 L76.75 414.63 L77.87 415.94 L78.99 417.24 L80.1 418.5 L81.21 419.71 L82.33 420.89 L83.44 422.06 L84.55 423.26 L85.64 424.5 L86.7 425.8 L87.79 427.28 L88.94 428.95 L90.06 430.66 L91.1 432.26 L91.97 433.63 L92.6 434.6" fill="none" stroke="#f08c1e" stroke-width="1"/>
<path d="M67.7 407.8 L68.36 408.4 L69.27 409.23 L70.36 410.22 L71.53 411.29 L72.7 412.37 L73.8 413.4 L74.83 414.37 L75.87 415.34 L76.92 416.33 L77.97 417.34 L79.03 418.4 L80.1 419.5 L81.26 420.76 L82.52 422.17 L83.79 423.63 L84.98 425 L85.98 426.17 L86.7 427" fill="none" stroke="#48a83c" stroke-width="1"/>
<path d="M41.3 392.4 L43.61 393.55 L46.92 395.19 L50.79 397.11 L54.74 399.09 L58.33 400.92 L61.1 402.4 L63.04 403.54 L64.52 404.53 L65.64 405.37 L66.48 406.08 L67.13 406.65 L67.7 407.1" fill="none" stroke="#9aa62c" stroke-width="1.2"/>
<line x1="35.5" y1="378.5" x2="35.5" y2="443.2" stroke="#231f20" stroke-width="1.25"/>
<line x1="35" y1="442.7" x2="100.3" y2="442.7" stroke="#231f20" stroke-width="1.25"/>
<line x1="32.5" y1="388.9" x2="35.5" y2="388.9" stroke="#231f20" stroke-width="1"/>
<text x="19.53" y="391.17" font-size="6.3" textLength="10.51" lengthAdjust="spacingAndGlyphs">100</text>
<line x1="32.5" y1="402.08" x2="35.5" y2="402.08" stroke="#231f20" stroke-width="1"/>
<line x1="32.5" y1="415.25" x2="35.5" y2="415.25" stroke="#231f20" stroke-width="1"/>
<text x="23.03" y="417.52" font-size="6.3" textLength="7.01" lengthAdjust="spacingAndGlyphs">50</text>
<line x1="32.5" y1="428.43" x2="35.5" y2="428.43" stroke="#231f20" stroke-width="1"/>
<line x1="32.5" y1="441.6" x2="35.5" y2="441.6" stroke="#231f20" stroke-width="1"/>
<text x="26.54" y="443.87" font-size="6.3" textLength="3.5" lengthAdjust="spacingAndGlyphs">0</text>
<line x1="41.3" y1="442.7" x2="41.3" y2="445.3" stroke="#231f20" stroke-width="1"/>
<rect x="43.9" y="441.2" width="2.6" height="3" fill="#fff"/>
<path d="M42.90 444.30L44.50 441.10M45.70 444.30L47.30 441.10" fill="none" stroke="#231f20" stroke-width="0.7"/>
<line x1="48.4" y1="442.7" x2="48.4" y2="445.3" stroke="#231f20" stroke-width="1"/>
<line x1="61.1" y1="442.7" x2="61.1" y2="445.3" stroke="#231f20" stroke-width="1"/>
<line x1="73.8" y1="442.7" x2="73.8" y2="445.3" stroke="#231f20" stroke-width="1"/>
<line x1="86.5" y1="442.7" x2="86.5" y2="445.3" stroke="#231f20" stroke-width="1"/>
<line x1="99.2" y1="442.7" x2="99.2" y2="445.3" stroke="#231f20" stroke-width="1"/>
<text x="23.59" y="464.53" font-size="6.4" textLength="19.07" lengthAdjust="spacingAndGlyphs" transform="rotate(-45 23.59 464.53)">DMSO</text>
<text x="42.69" y="457.73" font-size="6.4" textLength="6.62" lengthAdjust="spacingAndGlyphs" transform="rotate(-45 42.69 457.73)">10</text>
<text x="45.78" y="451.12" font-size="4.3" textLength="2.39" lengthAdjust="spacingAndGlyphs" transform="rotate(-45 45.78 451.12)">0</text>
<text x="55.39" y="457.73" font-size="6.4" textLength="6.62" lengthAdjust="spacingAndGlyphs" transform="rotate(-45 55.39 457.73)">10</text>
<text x="58.37" y="451.23" font-size="4.3" textLength="2.39" lengthAdjust="spacingAndGlyphs" transform="rotate(-45 58.37 451.23)">1</text>
<text x="68.09" y="457.73" font-size="6.4" textLength="6.62" lengthAdjust="spacingAndGlyphs" transform="rotate(-45 68.09 457.73)">10</text>
<text x="71.15" y="451.15" font-size="4.3" textLength="2.39" lengthAdjust="spacingAndGlyphs" transform="rotate(-45 71.15 451.15)">2</text>
<text x="80.79" y="457.73" font-size="6.4" textLength="6.62" lengthAdjust="spacingAndGlyphs" transform="rotate(-45 80.79 457.73)">10</text>
<text x="83.88" y="451.12" font-size="4.3" textLength="2.39" lengthAdjust="spacingAndGlyphs" transform="rotate(-45 83.88 451.12)">3</text>
<text x="93.49" y="457.73" font-size="6.4" textLength="6.62" lengthAdjust="spacingAndGlyphs" transform="rotate(-45 93.49 457.73)">10</text>
<text x="96.63" y="451.07" font-size="4.3" textLength="2.39" lengthAdjust="spacingAndGlyphs" transform="rotate(-45 96.63 451.07)">4</text>
<text x="13.9" y="431.04" font-size="8.5" textLength="31.65" lengthAdjust="spacingAndGlyphs" transform="rotate(-90 13.9 431.04)" class="hv">% Viability</text>
<text x="44.97" y="469.7" font-size="8.5" textLength="48.94" lengthAdjust="spacingAndGlyphs" class="hv">Venetoclax (nM)</text>
<line x1="128.3" y1="378.6" x2="128.3" y2="442.1" stroke="#231f20" stroke-width="1.25"/>
<line x1="127.8" y1="441.6" x2="169.1" y2="441.6" stroke="#231f20" stroke-width="1.25"/>
<line x1="125.3" y1="389.1" x2="128.3" y2="389.1" stroke="#231f20" stroke-width="1"/>
<text x="110.33" y="391.37" font-size="6.3" textLength="14.02" lengthAdjust="spacingAndGlyphs">1000</text>
<line x1="125.3" y1="411.2" x2="128.3" y2="411.2" stroke="#231f20" stroke-width="1"/>
<text x="113.83" y="413.47" font-size="6.3" textLength="10.51" lengthAdjust="spacingAndGlyphs">300</text>
<line x1="125.3" y1="431.8" x2="128.3" y2="431.8" stroke="#231f20" stroke-width="1"/>
<text x="113.83" y="434.07" font-size="6.3" textLength="10.51" lengthAdjust="spacingAndGlyphs">100</text>
<line x1="136.3" y1="441.6" x2="136.3" y2="444.2" stroke="#231f20" stroke-width="1"/>
<line x1="149.1" y1="441.6" x2="149.1" y2="444.2" stroke="#231f20" stroke-width="1"/>
<line x1="161.9" y1="441.6" x2="161.9" y2="444.2" stroke="#231f20" stroke-width="1"/>
<text x="133.68" y="455.6" font-size="8.6" textLength="29.84" lengthAdjust="spacingAndGlyphs" class="hv">IC<tspan font-size="5.8" dy="1.8">50</tspan><tspan dy="-1.8"> (nM)</tspan></text>
<line x1="132.6" y1="382.6" x2="140.6" y2="382.6" stroke="#bdbdbd" stroke-width="0.9"/>
<rect x="134.1" y="380.6" width="1.8" height="1.8" fill="none" stroke="#c6c6c6" stroke-width="0.6"/>
<rect x="135.6" y="382.6" width="1.8" height="1.8" fill="none" stroke="#c6c6c6" stroke-width="0.6"/>
<rect x="137.1" y="381.1" width="1.8" height="1.8" fill="none" stroke="#c6c6c6" stroke-width="0.6"/>
<rect x="134.7" y="384.1" width="1.8" height="1.8" fill="none" stroke="#c6c6c6" stroke-width="0.6"/>
<rect x="144.6" y="427.6" width="9" height="8.6" fill="#f9cf98"/>
<rect x="145.91" y="431.02" width="2.2" height="2.2" fill="none" stroke="#f0a040" stroke-width="0.5"/>
<rect x="146.91" y="431.45" width="2.2" height="2.2" fill="none" stroke="#f0a040" stroke-width="0.5"/>
<rect x="148.86" y="427.57" width="2.2" height="2.2" fill="none" stroke="#f0a040" stroke-width="0.5"/>
<rect x="144.2" y="433.13" width="2.2" height="2.2" fill="none" stroke="#f0a040" stroke-width="0.5"/>
<rect x="146.07" y="428.79" width="2.2" height="2.2" fill="none" stroke="#f0a040" stroke-width="0.5"/>
<rect x="151.67" y="430.49" width="2.2" height="2.2" fill="none" stroke="#f0a040" stroke-width="0.5"/>
<rect x="150.46" y="430.53" width="2.2" height="2.2" fill="none" stroke="#f0a040" stroke-width="0.5"/>
<rect x="148.96" y="428.18" width="2.2" height="2.2" fill="none" stroke="#f0a040" stroke-width="0.5"/>
<rect x="148.92" y="433.35" width="2.2" height="2.2" fill="none" stroke="#f0a040" stroke-width="0.5"/>
<rect x="148.08" y="432.44" width="2.2" height="2.2" fill="none" stroke="#f0a040" stroke-width="0.5"/>
<rect x="149.2" y="427.56" width="2.2" height="2.2" fill="none" stroke="#f0a040" stroke-width="0.5"/>
<rect x="149.86" y="431.36" width="2.2" height="2.2" fill="none" stroke="#f0a040" stroke-width="0.5"/>
<rect x="146.39" y="427.32" width="2.2" height="2.2" fill="none" stroke="#f0a040" stroke-width="0.5"/>
<rect x="150.68" y="430.5" width="2.2" height="2.2" fill="none" stroke="#f0a040" stroke-width="0.5"/>
<line x1="144.8" y1="431.4" x2="153.4" y2="431.4" stroke="#e08a20" stroke-width="0.9"/>
<rect x="149.6" y="423.2" width="1.6" height="1.6" fill="#e59a3a"/>
<rect x="146.3" y="438.3" width="1.6" height="1.6" fill="#e59a3a"/>
<line x1="149.1" y1="425" x2="149.1" y2="438" stroke="#f0a040" stroke-width="0.6"/>
<rect x="162.56" y="423.13" width="2.2" height="2.2" fill="#bfe6bf" stroke="#4bb04f" stroke-width="0.5"/>
<rect x="164.1" y="421.12" width="2.2" height="2.2" fill="#bfe6bf" stroke="#4bb04f" stroke-width="0.5"/>
<rect x="160.1" y="422.41" width="2.2" height="2.2" fill="#bfe6bf" stroke="#4bb04f" stroke-width="0.5"/>
<rect x="164.21" y="421.17" width="2.2" height="2.2" fill="#bfe6bf" stroke="#4bb04f" stroke-width="0.5"/>
<rect x="163.78" y="422.5" width="2.2" height="2.2" fill="#bfe6bf" stroke="#4bb04f" stroke-width="0.5"/>
<rect x="158.75" y="422.38" width="2.2" height="2.2" fill="#bfe6bf" stroke="#4bb04f" stroke-width="0.5"/>
<rect x="164.44" y="420.94" width="2.2" height="2.2" fill="#bfe6bf" stroke="#4bb04f" stroke-width="0.5"/>
<rect x="159.39" y="422.59" width="2.2" height="2.2" fill="#bfe6bf" stroke="#4bb04f" stroke-width="0.5"/>
<line x1="157.8" y1="423.2" x2="166.6" y2="423.2" stroke="#3a9a3a" stroke-width="0.9"/>
<rect x="163.6" y="426.8" width="1.6" height="1.6" fill="#3a9a3a"/>
<path d="M134.00 371.50V368.60H158.60V371.50" fill="none" stroke="#231f20" stroke-width="0.9"/>
<path d="M134.00 378.90V376.50H146.80V378.90" fill="none" stroke="#231f20" stroke-width="0.9"/>
<text x="140.59" y="368.6" font-size="6" textLength="10.62" lengthAdjust="spacingAndGlyphs">****</text>
<text x="135.19" y="376.6" font-size="6" textLength="11.02" lengthAdjust="spacingAndGlyphs">****</text>
<text x="178.59" y="345.5" font-size="11.48" textLength="3.83" lengthAdjust="spacingAndGlyphs" fill="#111" font-weight="bold">I</text>
<text x="237.84" y="345.8" font-size="8.6" textLength="27.44" lengthAdjust="spacingAndGlyphs">MV4-11</text>
<text x="265.49" y="342.2" font-size="6" textLength="14.61" lengthAdjust="spacingAndGlyphs">Cas9</text>
<rect x="194.3" y="354.6" width="4.8" height="4" fill="#ececf4" stroke="#c9c9d8" stroke-width="0.7"/>
<line x1="196.7" y1="354" x2="196.7" y2="359.2" stroke="#c9c9d8" stroke-width="0.7"/>
<text x="202.73" y="358.9" font-size="6.4" textLength="17.04" lengthAdjust="spacingAndGlyphs">sg<tspan font-style="italic">Luc</tspan></text>
<rect x="228.8" y="354.6" width="4.5" height="4" fill="#fde2c0" stroke="#f5b56a" stroke-width="0.7"/>
<line x1="231.05" y1="354" x2="231.05" y2="359.2" stroke="#f5b56a" stroke-width="0.7"/>
<text x="236.13" y="358.9" font-size="6.4" textLength="36.27" lengthAdjust="spacingAndGlyphs">sg<tspan font-style="italic">PCGF1</tspan> #1</text>
<rect x="281.8" y="354.6" width="4.8" height="4" fill="#d8f0d8" stroke="#8fd08f" stroke-width="0.7"/>
<line x1="284.2" y1="354" x2="284.2" y2="359.2" stroke="#8fd08f" stroke-width="0.7"/>
<text x="289.43" y="358.9" font-size="6.4" textLength="36.89" lengthAdjust="spacingAndGlyphs">sg<tspan font-style="italic">PCGF1</tspan> #2</text>
<path d="M213.6 388.9 L214.94 388.97 L216.79 389.03 L218.97 389.12 L221.35 389.28 L223.74 389.52 L226 389.9 L228.22 390.44 L230.56 391.14 L232.92 391.93 L235.21 392.76 L237.33 393.57 L239.2 394.3 L240.77 394.94 L242.12 395.53 L243.31 396.11 L244.39 396.69 L245.43 397.31 L246.5 398 L247.56 398.74 L248.57 399.51 L249.54 400.32 L250.49 401.19 L251.43 402.11 L252.4 403.1 L253.38 404.11 L254.34 405.13 L255.31 406.2 L256.29 407.4 L257.28 408.78 L258.3 410.4 L259.42 412.5 L260.66 415.06 L261.92 417.81 L263.09 420.45 L264.09 422.71 L264.8 424.3" fill="none" stroke="#c7c9ea" stroke-width="1"/>
<path d="M213.6 388.9 L215.01 389.04 L217 389.21 L219.34 389.42 L221.78 389.71 L224.08 390.09 L226 390.6 L227.54 391.21 L228.9 391.91 L230.11 392.71 L231.24 393.62 L232.32 394.64 L233.4 395.8 L234.45 397.13 L235.42 398.65 L236.35 400.28 L237.27 401.97 L238.21 403.67 L239.2 405.3 L240.25 406.93 L241.34 408.6 L242.45 410.27 L243.57 411.9 L244.69 413.43 L245.8 414.8 L246.91 416 L248.03 417.06 L249.14 418.02 L250.25 418.93 L251.34 419.8 L252.4 420.7 L253.42 421.62 L254.4 422.54 L255.36 423.44 L256.31 424.29 L257.29 425.09 L258.3 425.8 L259.42 426.44 L260.66 427.04 L261.92 427.57 L263.09 428.03 L264.09 428.41 L264.8 428.7" fill="none" stroke="#f08c1e" stroke-width="1"/>
<path d="M213.6 388.9 L214.33 389.39 L215.34 390.05 L216.54 390.84 L217.81 391.72 L219.07 392.65 L220.2 393.6 L221.19 394.58 L222.13 395.63 L223.05 396.74 L223.98 397.88 L224.95 399.04 L226 400.2 L227.16 401.39 L228.41 402.64 L229.7 403.9 L230.99 405.15 L232.24 406.36 L233.4 407.5 L234.45 408.53 L235.42 409.46 L236.35 410.35 L237.27 411.25 L238.21 412.22 L239.2 413.3 L240.25 414.53 L241.34 415.86 L242.45 417.26 L243.57 418.67 L244.69 420.07 L245.8 421.4 L246.91 422.69 L248.03 423.97 L249.14 425.24 L250.25 426.46 L251.34 427.62 L252.4 428.7 L253.42 429.69 L254.4 430.61 L255.36 431.48 L256.31 432.29 L257.29 433.06 L258.3 433.8 L259.42 434.54 L260.66 435.27 L261.92 435.97 L263.09 436.59 L264.09 437.11 L264.8 437.5" fill="none" stroke="#3fae49" stroke-width="1"/>
<rect x="211.9" y="387.2" width="3.4" height="3.4" fill="#d0c8c8"/>
<rect x="224.6" y="386" width="2.8" height="2.8" fill="#dcdcf2" stroke="#c0c2e6" stroke-width="0.6"/>
<rect x="232" y="392.2" width="2.8" height="2.8" fill="#dcdcf2" stroke="#c0c2e6" stroke-width="0.6"/>
<rect x="237.8" y="396.6" width="2.8" height="2.8" fill="#dcdcf2" stroke="#c0c2e6" stroke-width="0.6"/>
<rect x="244.4" y="396.6" width="2.8" height="2.8" fill="#dcdcf2" stroke="#c0c2e6" stroke-width="0.6"/>
<rect x="251" y="404.6" width="2.8" height="2.8" fill="#dcdcf2" stroke="#c0c2e6" stroke-width="0.6"/>
<rect x="256.9" y="409.6" width="2.8" height="2.8" fill="#dcdcf2" stroke="#c0c2e6" stroke-width="0.6"/>
<rect x="263.4" y="423.6" width="2.8" height="2.8" fill="#dcdcf2" stroke="#c0c2e6" stroke-width="0.6"/>
<rect x="224.6" y="389.2" width="2.8" height="2.8" fill="#f8cf96" stroke="#eb9a3a" stroke-width="0.6"/>
<rect x="232" y="392.9" width="2.8" height="2.8" fill="#f8cf96" stroke="#eb9a3a" stroke-width="0.6"/>
<rect x="237.8" y="407.5" width="2.8" height="2.8" fill="#f8cf96" stroke="#eb9a3a" stroke-width="0.6"/>
<rect x="237.8" y="409.7" width="2.8" height="2.8" fill="#f8cf96" stroke="#eb9a3a" stroke-width="0.6"/>
<rect x="244.4" y="414.1" width="2.8" height="2.8" fill="#f8cf96" stroke="#eb9a3a" stroke-width="0.6"/>
<rect x="251" y="417.8" width="2.8" height="2.8" fill="#f8cf96" stroke="#eb9a3a" stroke-width="0.6"/>
<rect x="256.9" y="422.9" width="2.8" height="2.8" fill="#f8cf96" stroke="#eb9a3a" stroke-width="0.6"/>
<rect x="263.4" y="429.5" width="2.8" height="2.8" fill="#f8cf96" stroke="#eb9a3a" stroke-width="0.6"/>
<circle cx="226" cy="400.9" r="1.35" fill="none" stroke="#3fae49" stroke-width="0.8"/>
<circle cx="233.4" cy="407.5" r="1.35" fill="none" stroke="#3fae49" stroke-width="0.8"/>
<circle cx="233.4" cy="409.7" r="1.35" fill="none" stroke="#3fae49" stroke-width="0.8"/>
<circle cx="239.2" cy="414.1" r="1.35" fill="none" stroke="#3fae49" stroke-width="0.8"/>
<circle cx="245.8" cy="422.1" r="1.35" fill="none" stroke="#3fae49" stroke-width="0.8"/>
<circle cx="252.4" cy="430.9" r="1.35" fill="none" stroke="#3fae49" stroke-width="0.8"/>
<circle cx="258.3" cy="433.8" r="1.35" fill="none" stroke="#3fae49" stroke-width="0.8"/>
<circle cx="264.8" cy="437.5" r="1.35" fill="none" stroke="#3fae49" stroke-width="0.8"/>
<line x1="208.3" y1="378.5" x2="208.3" y2="443.2" stroke="#231f20" stroke-width="1.25"/>
<line x1="207.8" y1="442.7" x2="273.7" y2="442.7" stroke="#231f20" stroke-width="1.25"/>
<line x1="205.3" y1="388.9" x2="208.3" y2="388.9" stroke="#231f20" stroke-width="1"/>
<text x="192.33" y="391.17" font-size="6.3" textLength="10.51" lengthAdjust="spacingAndGlyphs">100</text>
<line x1="205.3" y1="402.08" x2="208.3" y2="402.08" stroke="#231f20" stroke-width="1"/>
<line x1="205.3" y1="415.25" x2="208.3" y2="415.25" stroke="#231f20" stroke-width="1"/>
<text x="195.83" y="417.52" font-size="6.3" textLength="7.01" lengthAdjust="spacingAndGlyphs">50</text>
<line x1="205.3" y1="428.43" x2="208.3" y2="428.43" stroke="#231f20" stroke-width="1"/>
<line x1="205.3" y1="441.6" x2="208.3" y2="441.6" stroke="#231f20" stroke-width="1"/>
<text x="199.34" y="443.87" font-size="6.3" textLength="3.5" lengthAdjust="spacingAndGlyphs">0</text>
<line x1="213.6" y1="442.7" x2="213.6" y2="445.3" stroke="#231f20" stroke-width="1"/>
<rect x="216.2" y="441.2" width="2.6" height="3" fill="#fff"/>
<path d="M215.20 444.30L216.80 441.10M218.00 444.30L219.60 441.10" fill="none" stroke="#231f20" stroke-width="0.7"/>
<line x1="220.5" y1="442.7" x2="220.5" y2="445.3" stroke="#231f20" stroke-width="1"/>
<line x1="233.4" y1="442.7" x2="233.4" y2="445.3" stroke="#231f20" stroke-width="1"/>
<line x1="245.9" y1="442.7" x2="245.9" y2="445.3" stroke="#231f20" stroke-width="1"/>
<line x1="258.6" y1="442.7" x2="258.6" y2="445.3" stroke="#231f20" stroke-width="1"/>
<line x1="271.2" y1="442.7" x2="271.2" y2="445.3" stroke="#231f20" stroke-width="1"/>
<text x="196.39" y="464.53" font-size="6.4" textLength="19.07" lengthAdjust="spacingAndGlyphs" transform="rotate(-45 196.39 464.53)">DMSO</text>
<text x="214.79" y="457.73" font-size="6.4" textLength="6.62" lengthAdjust="spacingAndGlyphs" transform="rotate(-45 214.79 457.73)">10</text>
<text x="217.88" y="451.12" font-size="4.3" textLength="2.39" lengthAdjust="spacingAndGlyphs" transform="rotate(-45 217.88 451.12)">0</text>
<text x="227.69" y="457.73" font-size="6.4" textLength="6.62" lengthAdjust="spacingAndGlyphs" transform="rotate(-45 227.69 457.73)">10</text>
<text x="230.67" y="451.23" font-size="4.3" textLength="2.39" lengthAdjust="spacingAndGlyphs" transform="rotate(-45 230.67 451.23)">1</text>
<text x="240.19" y="457.73" font-size="6.4" textLength="6.62" lengthAdjust="spacingAndGlyphs" transform="rotate(-45 240.19 457.73)">10</text>
<text x="243.25" y="451.15" font-size="4.3" textLength="2.39" lengthAdjust="spacingAndGlyphs" transform="rotate(-45 243.25 451.15)">2</text>
<text x="252.89" y="457.73" font-size="6.4" textLength="6.62" lengthAdjust="spacingAndGlyphs" transform="rotate(-45 252.89 457.73)">10</text>
<text x="255.98" y="451.12" font-size="4.3" textLength="2.39" lengthAdjust="spacingAndGlyphs" transform="rotate(-45 255.98 451.12)">3</text>
<text x="265.49" y="457.73" font-size="6.4" textLength="6.62" lengthAdjust="spacingAndGlyphs" transform="rotate(-45 265.49 457.73)">10</text>
<text x="268.63" y="451.07" font-size="4.3" textLength="2.39" lengthAdjust="spacingAndGlyphs" transform="rotate(-45 268.63 451.07)">4</text>
<text x="186.7" y="431.04" font-size="8.5" textLength="31.65" lengthAdjust="spacingAndGlyphs" transform="rotate(-90 186.7 431.04)" class="hv">% Viability</text>
<text x="217.27" y="469.7" font-size="8.5" textLength="48.54" lengthAdjust="spacingAndGlyphs" class="hv">Venetoclax (nM)</text>
<line x1="300.6" y1="378.6" x2="300.6" y2="442.1" stroke="#231f20" stroke-width="1.25"/>
<line x1="300.1" y1="441.6" x2="340" y2="441.6" stroke="#231f20" stroke-width="1.25"/>
<line x1="297.6" y1="382.6" x2="300.6" y2="382.6" stroke="#231f20" stroke-width="1"/>
<text x="282.63" y="384.87" font-size="6.3" textLength="14.02" lengthAdjust="spacingAndGlyphs">1000</text>
<line x1="297.6" y1="403.1" x2="300.6" y2="403.1" stroke="#231f20" stroke-width="1"/>
<text x="286.13" y="405.37" font-size="6.3" textLength="10.51" lengthAdjust="spacingAndGlyphs">300</text>
<line x1="297.6" y1="421" x2="300.6" y2="421" stroke="#231f20" stroke-width="1"/>
<text x="286.13" y="423.27" font-size="6.3" textLength="10.51" lengthAdjust="spacingAndGlyphs">100</text>
<line x1="297.6" y1="441" x2="300.6" y2="441" stroke="#231f20" stroke-width="1"/>
<text x="289.63" y="443.27" font-size="6.3" textLength="7.01" lengthAdjust="spacingAndGlyphs">30</text>
<line x1="308" y1="441.6" x2="308" y2="444.2" stroke="#231f20" stroke-width="1"/>
<line x1="321.1" y1="441.6" x2="321.1" y2="444.2" stroke="#231f20" stroke-width="1"/>
<line x1="334.5" y1="441.6" x2="334.5" y2="444.2" stroke="#231f20" stroke-width="1"/>
<text x="307.41" y="455.6" font-size="8.6" textLength="28.59" lengthAdjust="spacingAndGlyphs" class="hv">IC<tspan font-size="5.8" dy="1.8">50</tspan><tspan dy="-1.8"> (nM)</tspan></text>
<line x1="304.3" y1="382" x2="311.5" y2="382" stroke="#bdbdbd" stroke-width="0.9"/>
<rect x="306.7" y="381.2" width="1.6" height="1.6" fill="none" stroke="#bdbdbd" stroke-width="0.5"/>
<line x1="316.3" y1="414.1" x2="326" y2="414.1" stroke="#f08c1e" stroke-width="1.2"/>
<path d="M320.0 412.6L322.6 414.1L320.0 415.6Z" fill="#e07a10"/>
<line x1="330.2" y1="438.3" x2="339" y2="438.3" stroke="#3fae49" stroke-width="1.2"/>
<path d="M333.4 436.8L336.0 438.3L333.4 439.8Z" fill="#2a8a2a"/>
<path d="M308.30 371.50V368.60H332.70V371.50" fill="none" stroke="#231f20" stroke-width="0.9"/>
<path d="M308.30 378.90V376.50H321.40V378.90" fill="none" stroke="#231f20" stroke-width="0.9"/>
<text x="315.29" y="368.6" font-size="6" textLength="10.62" lengthAdjust="spacingAndGlyphs">****</text>
<text x="309.89" y="376.6" font-size="6" textLength="10.62" lengthAdjust="spacingAndGlyphs">****</text>
<text x="350.42" y="345.8" font-size="10.32" textLength="6.7" lengthAdjust="spacingAndGlyphs" fill="#111" font-weight="bold">J</text>
<text x="405.11" y="345.8" font-size="8.6" textLength="37.35" lengthAdjust="spacingAndGlyphs">MOLM-13</text>
<text x="442.69" y="342.2" font-size="6" textLength="14.51" lengthAdjust="spacingAndGlyphs">Cas9</text>
<rect x="367" y="354.6" width="4" height="4" fill="#eeeeee" stroke="#c9c9c9" stroke-width="0.7"/>
<line x1="369" y1="354" x2="369" y2="359.2" stroke="#c9c9c9" stroke-width="0.7"/>
<text x="374.62" y="358.9" font-size="6.4" textLength="17.35" lengthAdjust="spacingAndGlyphs">sg<tspan font-style="italic">Luc</tspan></text>
<rect x="400.7" y="354.6" width="4.2" height="4" fill="#fde2c0" stroke="#f5b56a" stroke-width="0.7"/>
<line x1="402.8" y1="354" x2="402.8" y2="359.2" stroke="#f5b56a" stroke-width="0.7"/>
<text x="408.33" y="358.9" font-size="6.4" textLength="36.78" lengthAdjust="spacingAndGlyphs">sg<tspan font-style="italic">PCGF1</tspan> #1</text>
<rect x="453.2" y="354.6" width="4.8" height="4" fill="#d8f0d8" stroke="#8fd08f" stroke-width="0.7"/>
<line x1="455.6" y1="354" x2="455.6" y2="359.2" stroke="#8fd08f" stroke-width="0.7"/>
<text x="460.83" y="358.9" font-size="6.4" textLength="36.79" lengthAdjust="spacingAndGlyphs">sg<tspan font-style="italic">PCGF1</tspan> #2</text>
<path d="M385.6 388.4 L387.08 388.99 L389.18 389.83 L391.64 390.82 L394.19 391.84 L396.57 392.81 L398.5 393.6 L399.96 394.21 L401.17 394.73 L402.19 395.18 L403.13 395.6 L404.07 396.03 L405.1 396.5 L406.2 396.96 L407.3 397.37 L408.4 397.78 L409.5 398.26 L410.6 398.84 L411.7 399.6 L412.8 400.56 L413.9 401.69 L415 402.94 L416.1 404.24 L417.2 405.55 L418.3 406.8 L419.41 407.99 L420.53 409.17 L421.65 410.35 L422.76 411.55 L423.85 412.8 L424.9 414.1 L425.91 415.52 L426.89 417.06 L427.84 418.64 L428.79 420.19 L429.74 421.63 L430.7 422.9 L431.75 424.02 L432.88 425.06 L434.01 426 L435.07 426.81 L435.96 427.49 L436.6 428" fill="none" stroke="#d6d6da" stroke-width="1"/>
<rect x="384.2" y="387" width="2.8" height="2.8" fill="#dcdce2" stroke="#c6c6cc" stroke-width="0.6"/>
<rect x="397.1" y="392.2" width="2.8" height="2.8" fill="#dcdce2" stroke="#c6c6cc" stroke-width="0.6"/>
<rect x="403.7" y="395.1" width="2.8" height="2.8" fill="#dcdce2" stroke="#c6c6cc" stroke-width="0.6"/>
<rect x="410.3" y="396.6" width="2.8" height="2.8" fill="#dcdce2" stroke="#c6c6cc" stroke-width="0.6"/>
<rect x="410.3" y="398" width="2.8" height="2.8" fill="#dcdce2" stroke="#c6c6cc" stroke-width="0.6"/>
<rect x="416.9" y="405.4" width="2.8" height="2.8" fill="#dcdce2" stroke="#c6c6cc" stroke-width="0.6"/>
<rect x="423.5" y="413.4" width="2.8" height="2.8" fill="#dcdce2" stroke="#c6c6cc" stroke-width="0.6"/>
<rect x="429.3" y="422.2" width="2.8" height="2.8" fill="#dcdce2" stroke="#c6c6cc" stroke-width="0.6"/>
<rect x="435.2" y="426.6" width="2.8" height="2.8" fill="#dcdce2" stroke="#c6c6cc" stroke-width="0.6"/>
<path d="M385.6 389 L386.37 389.21 L387.46 389.49 L388.73 389.83 L390.09 390.22 L391.42 390.68 L392.6 391.2 L393.64 391.75 L394.62 392.31 L395.58 392.94 L396.52 393.67 L397.49 394.54 L398.5 395.6 L399.56 396.88 L400.65 398.37 L401.76 399.99 L402.87 401.71 L403.99 403.46 L405.1 405.2 L406.2 406.91 L407.3 408.65 L408.4 410.43 L409.5 412.25 L410.6 414.14 L411.7 416.1 L412.8 418.24 L413.9 420.55 L415 422.93 L416.1 425.25 L417.2 427.41 L418.3 429.3 L419.41 430.89 L420.53 432.28 L421.65 433.5 L422.76 434.6 L423.85 435.62 L424.9 436.6 L425.91 437.54 L426.89 438.41 L427.84 439.21 L428.79 439.91 L429.74 440.51 L430.7 441 L431.71 441.35 L432.75 441.56 L433.8 441.67 L434.81 441.72 L435.76 441.75 L436.6 441.8 L437.35 441.86 L438.04 441.89 L438.67 441.9 L439.21 441.9 L439.66 441.9 L440 441.9" fill="none" stroke="#3fae49" stroke-width="1"/>
<path d="M385.6 388.4 L386.37 388.61 L387.46 388.89 L388.73 389.23 L390.09 389.62 L391.42 390.08 L392.6 390.6 L393.64 391.15 L394.62 391.71 L395.58 392.34 L396.52 393.07 L397.49 393.94 L398.5 395 L399.56 396.28 L400.65 397.77 L401.76 399.39 L402.87 401.11 L403.99 402.86 L405.1 404.6 L406.2 406.31 L407.3 408.05 L408.4 409.83 L409.5 411.65 L410.6 413.54 L411.7 415.5 L412.8 417.64 L413.9 419.95 L415 422.32 L416.1 424.65 L417.2 426.81 L418.3 428.7 L419.41 430.29 L420.53 431.68 L421.65 432.9 L422.76 434 L423.85 435.02 L424.9 436 L425.91 436.94 L426.89 437.81 L427.84 438.61 L428.79 439.31 L429.74 439.91 L430.7 440.4 L431.71 440.75 L432.75 440.96 L433.8 441.07 L434.81 441.12 L435.76 441.15 L436.6 441.2 L437.35 441.26 L438.04 441.29 L438.67 441.3 L439.21 441.3 L439.66 441.3 L440 441.3" fill="none" stroke="#d8901e" stroke-width="1.1"/>
<circle cx="385.6" cy="384.8" r="1.35" fill="none" stroke="#3fae49" stroke-width="0.8"/>
<circle cx="385.6" cy="392.1" r="1.35" fill="none" stroke="#3fae49" stroke-width="0.8"/>
<circle cx="398.5" cy="394.3" r="1.35" fill="none" stroke="#3fae49" stroke-width="0.8"/>
<circle cx="405.1" cy="404.6" r="1.35" fill="none" stroke="#3fae49" stroke-width="0.8"/>
<circle cx="405.1" cy="414.1" r="1.35" fill="none" stroke="#3fae49" stroke-width="0.8"/>
<circle cx="411.7" cy="417" r="1.35" fill="none" stroke="#3fae49" stroke-width="0.8"/>
<circle cx="418.3" cy="430.9" r="1.35" fill="none" stroke="#3fae49" stroke-width="0.8"/>
<circle cx="424.9" cy="434.5" r="1.35" fill="none" stroke="#3fae49" stroke-width="0.8"/>
<circle cx="385.6" cy="389.9" r="1.35" fill="none" stroke="#f0962e" stroke-width="0.8"/>
<circle cx="398.5" cy="398.7" r="1.35" fill="none" stroke="#f0962e" stroke-width="0.8"/>
<circle cx="405.1" cy="408.9" r="1.35" fill="none" stroke="#f0962e" stroke-width="0.8"/>
<circle cx="411.7" cy="413.3" r="1.35" fill="none" stroke="#f0962e" stroke-width="0.8"/>
<circle cx="418.3" cy="432.4" r="1.35" fill="none" stroke="#f0962e" stroke-width="0.8"/>
<circle cx="424.9" cy="436" r="1.35" fill="none" stroke="#f0962e" stroke-width="0.8"/>
<circle cx="430.7" cy="441" r="1.35" fill="none" stroke="#f0962e" stroke-width="0.8"/>
<circle cx="436.6" cy="441" r="1.35" fill="none" stroke="#f0962e" stroke-width="0.8"/>
<line x1="379.5" y1="378.5" x2="379.5" y2="443.2" stroke="#231f20" stroke-width="1.25"/>
<line x1="379" y1="442.7" x2="447.1" y2="442.7" stroke="#231f20" stroke-width="1.25"/>
<line x1="376.5" y1="388.9" x2="379.5" y2="388.9" stroke="#231f20" stroke-width="1"/>
<text x="363.53" y="391.17" font-size="6.3" textLength="10.51" lengthAdjust="spacingAndGlyphs">100</text>
<line x1="376.5" y1="402.08" x2="379.5" y2="402.08" stroke="#231f20" stroke-width="1"/>
<line x1="376.5" y1="415.25" x2="379.5" y2="415.25" stroke="#231f20" stroke-width="1"/>
<text x="367.03" y="417.52" font-size="6.3" textLength="7.01" lengthAdjust="spacingAndGlyphs">50</text>
<line x1="376.5" y1="428.43" x2="379.5" y2="428.43" stroke="#231f20" stroke-width="1"/>
<line x1="376.5" y1="441.6" x2="379.5" y2="441.6" stroke="#231f20" stroke-width="1"/>
<text x="370.54" y="443.87" font-size="6.3" textLength="3.5" lengthAdjust="spacingAndGlyphs">0</text>
<line x1="385.6" y1="442.7" x2="385.6" y2="445.3" stroke="#231f20" stroke-width="1"/>
<rect x="388.2" y="441.2" width="2.6" height="3" fill="#fff"/>
<path d="M387.20 444.30L388.80 441.10M390.00 444.30L391.60 441.10" fill="none" stroke="#231f20" stroke-width="0.7"/>
<line x1="392.4" y1="442.7" x2="392.4" y2="445.3" stroke="#231f20" stroke-width="1"/>
<line x1="405.2" y1="442.7" x2="405.2" y2="445.3" stroke="#231f20" stroke-width="1"/>
<line x1="418.2" y1="442.7" x2="418.2" y2="445.3" stroke="#231f20" stroke-width="1"/>
<line x1="430.9" y1="442.7" x2="430.9" y2="445.3" stroke="#231f20" stroke-width="1"/>
<line x1="443.6" y1="442.7" x2="443.6" y2="445.3" stroke="#231f20" stroke-width="1"/>
<text x="368" y="464.53" font-size="6.4" textLength="18.92" lengthAdjust="spacingAndGlyphs" transform="rotate(-45 368 464.53)">DMSO</text>
<text x="385.79" y="458.43" font-size="6.4" textLength="6.62" lengthAdjust="spacingAndGlyphs" transform="rotate(-45 385.79 458.43)">10</text>
<text x="388.85" y="451.85" font-size="4.3" textLength="4.9" lengthAdjust="spacingAndGlyphs" transform="rotate(-45 388.85 451.85)">−1</text>
<text x="399.49" y="457.73" font-size="6.4" textLength="6.62" lengthAdjust="spacingAndGlyphs" transform="rotate(-45 399.49 457.73)">10</text>
<text x="402.58" y="451.12" font-size="4.3" textLength="2.39" lengthAdjust="spacingAndGlyphs" transform="rotate(-45 402.58 451.12)">0</text>
<text x="412.49" y="457.73" font-size="6.4" textLength="6.62" lengthAdjust="spacingAndGlyphs" transform="rotate(-45 412.49 457.73)">10</text>
<text x="415.47" y="451.23" font-size="4.3" textLength="2.39" lengthAdjust="spacingAndGlyphs" transform="rotate(-45 415.47 451.23)">1</text>
<text x="425.19" y="457.73" font-size="6.4" textLength="6.62" lengthAdjust="spacingAndGlyphs" transform="rotate(-45 425.19 457.73)">10</text>
<text x="428.25" y="451.15" font-size="4.3" textLength="2.39" lengthAdjust="spacingAndGlyphs" transform="rotate(-45 428.25 451.15)">2</text>
<text x="437.89" y="457.73" font-size="6.4" textLength="6.62" lengthAdjust="spacingAndGlyphs" transform="rotate(-45 437.89 457.73)">10</text>
<text x="440.98" y="451.12" font-size="4.3" textLength="2.39" lengthAdjust="spacingAndGlyphs" transform="rotate(-45 440.98 451.12)">3</text>
<text x="357.9" y="431.04" font-size="8.5" textLength="31.65" lengthAdjust="spacingAndGlyphs" transform="rotate(-90 357.9 431.04)" class="hv">% Viability</text>
<text x="389.47" y="469.7" font-size="8.5" textLength="48.54" lengthAdjust="spacingAndGlyphs" class="hv">Venetoclax (nM)</text>
<line x1="466.5" y1="378.6" x2="466.5" y2="442.1" stroke="#231f20" stroke-width="1.25"/>
<line x1="466" y1="441.6" x2="511.8" y2="441.6" stroke="#231f20" stroke-width="1.25"/>
<line x1="463.5" y1="387.1" x2="466.5" y2="387.1" stroke="#231f20" stroke-width="1"/>
<text x="455.53" y="389.37" font-size="6.3" textLength="7.01" lengthAdjust="spacingAndGlyphs">30</text>
<line x1="463.5" y1="408.3" x2="466.5" y2="408.3" stroke="#231f20" stroke-width="1"/>
<text x="455.53" y="410.57" font-size="6.3" textLength="7.01" lengthAdjust="spacingAndGlyphs">10</text>
<line x1="463.5" y1="430.2" x2="466.5" y2="430.2" stroke="#231f20" stroke-width="1"/>
<text x="459.07" y="432.47" font-size="6.3" textLength="3.5" lengthAdjust="spacingAndGlyphs">3</text>
<line x1="474.5" y1="441.6" x2="474.5" y2="444.2" stroke="#231f20" stroke-width="1"/>
<line x1="489.5" y1="441.6" x2="489.5" y2="444.2" stroke="#231f20" stroke-width="1"/>
<line x1="504.4" y1="441.6" x2="504.4" y2="444.2" stroke="#231f20" stroke-width="1"/>
<text x="475.11" y="455.6" font-size="8.6" textLength="28.59" lengthAdjust="spacingAndGlyphs" class="hv">IC<tspan font-size="5.8" dy="1.8">50</tspan><tspan dy="-1.8"> (nM)</tspan></text>
<line x1="470" y1="383" x2="479" y2="383" stroke="#c0c0c0" stroke-width="0.9"/>
<rect x="471.6" y="380.4" width="1.8" height="1.8" fill="none" stroke="#c0c0c0" stroke-width="0.6"/>
<rect x="473.6" y="382.9" width="1.8" height="1.8" fill="none" stroke="#c0c0c0" stroke-width="0.6"/>
<rect x="475.6" y="381.1" width="1.8" height="1.8" fill="none" stroke="#c0c0c0" stroke-width="0.6"/>
<rect x="473.9" y="385.1" width="1.8" height="1.8" fill="none" stroke="#c0c0c0" stroke-width="0.6"/>
<rect x="472.1" y="383.6" width="1.8" height="1.8" fill="none" stroke="#c0c0c0" stroke-width="0.6"/>
<line x1="484.5" y1="434.8" x2="494.8" y2="434.8" stroke="#f08c1e" stroke-width="1.2"/>
<rect x="488" y="433.6" width="2.6" height="2.4" fill="#f5b060"/>
<rect x="499.4" y="431.9" width="2.2" height="2.2" fill="#bfe6bf" stroke="#4bb04f" stroke-width="0.5"/>
<rect x="501.9" y="430.9" width="2.2" height="2.2" fill="#bfe6bf" stroke="#4bb04f" stroke-width="0.5"/>
<rect x="504.4" y="432.4" width="2.2" height="2.2" fill="#bfe6bf" stroke="#4bb04f" stroke-width="0.5"/>
<rect x="506.4" y="431.4" width="2.2" height="2.2" fill="#bfe6bf" stroke="#4bb04f" stroke-width="0.5"/>
<rect x="500.9" y="433.4" width="2.2" height="2.2" fill="#bfe6bf" stroke="#4bb04f" stroke-width="0.5"/>
<rect x="504.9" y="433.9" width="2.2" height="2.2" fill="#bfe6bf" stroke="#4bb04f" stroke-width="0.5"/>
<line x1="499.5" y1="433.2" x2="509.3" y2="433.2" stroke="#3a9a3a" stroke-width="1"/>
<line x1="504.4" y1="431" x2="504.4" y2="437.5" stroke="#3a9a3a" stroke-width="0.7"/>
<path d="M474.60 371.50V368.80H498.80V371.50" fill="none" stroke="#231f20" stroke-width="0.9"/>
<path d="M474.60 378.90V376.50H487.70V378.90" fill="none" stroke="#231f20" stroke-width="0.9"/>
<text x="482.59" y="368.6" font-size="6" textLength="8.32" lengthAdjust="spacingAndGlyphs">***</text>
<text x="477.2" y="376.6" font-size="6" textLength="7.5" lengthAdjust="spacingAndGlyphs">***</text>
<rect x="0.5" y="0.5" width="519" height="477" fill="none" stroke="#5a5a5a" stroke-width="1"/>
</svg>
</body></html>
